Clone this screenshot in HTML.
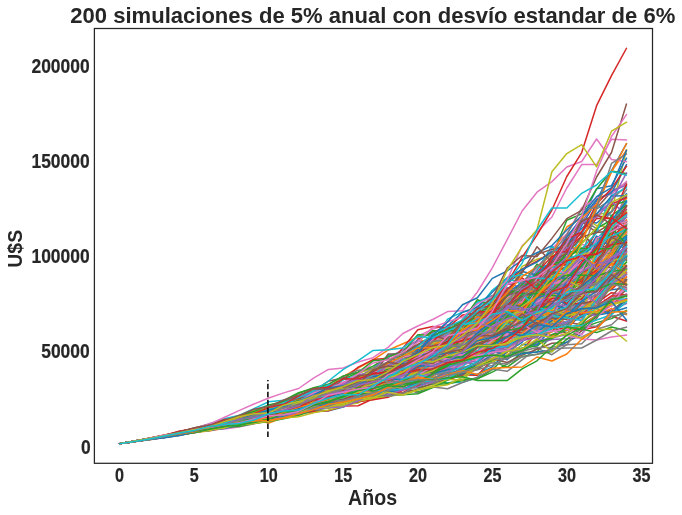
<!DOCTYPE html>
<html lang="es"><head><meta charset="utf-8"><title>200 simulaciones</title>
<style>html,body{margin:0;padding:0;background:#fff}svg{display:block;will-change:transform;opacity:.999}</style></head>
<body>
<svg width="682" height="515" viewBox="0 0 682 515">
<rect width="682" height="515" fill="#fff"/>
<g fill="none" stroke-width="1.5" stroke-linejoin="round" stroke-linecap="square">
<polyline points="119.8,443.7 134.7,441.1 149.6,438.4 164.5,436.2 179.4,434.4 194.3,431.4 209.2,430.0 224.1,428.0 239.0,423.8 253.9,420.7 268.8,416.6 283.7,413.2 298.6,412.8 313.5,410.9 328.4,410.8 343.3,407.1 358.2,398.3 373.1,395.0 388.0,391.1 402.9,388.5 417.8,383.4 432.7,380.3 447.6,369.2 462.5,359.0 477.4,346.3 492.3,336.2 507.2,332.8 522.1,315.9 537.0,319.9 551.9,318.3 566.8,309.8 581.7,302.7 596.6,295.1 611.5,289.7 626.4,288.0" stroke="#1f77b4"/>
<polyline points="119.8,443.7 134.7,441.4 149.6,438.8 164.5,436.7 179.4,433.6 194.3,431.0 209.2,426.3 224.1,424.9 239.0,421.1 253.9,417.7 268.8,411.9 283.7,406.8 298.6,402.0 313.5,405.4 328.4,403.5 343.3,396.2 358.2,393.1 373.1,384.6 388.0,376.5 402.9,368.7 417.8,363.6 432.7,360.7 447.6,355.4 462.5,351.1 477.4,346.0 492.3,348.3 507.2,339.9 522.1,334.4 537.0,322.5 551.9,313.2 566.8,310.6 581.7,308.2 596.6,301.6 611.5,304.2 626.4,281.4" stroke="#ff7f0e"/>
<polyline points="119.8,443.7 134.7,441.3 149.6,439.2 164.5,436.5 179.4,434.0 194.3,431.8 209.2,429.3 224.1,425.0 239.0,423.2 253.9,420.3 268.8,416.3 283.7,410.7 298.6,408.7 313.5,403.8 328.4,400.7 343.3,396.9 358.2,388.5 373.1,389.2 388.0,382.4 402.9,388.4 417.8,391.9 432.7,387.3 447.6,378.6 462.5,373.7 477.4,368.0 492.3,360.7 507.2,348.9 522.1,334.0 537.0,316.2 551.9,311.7 566.8,296.5 581.7,295.6 596.6,300.9 611.5,286.8 626.4,256.3" stroke="#2ca02c"/>
<polyline points="119.8,443.7 134.7,441.3 149.6,438.8 164.5,435.9 179.4,433.5 194.3,431.2 209.2,427.6 224.1,423.1 239.0,420.4 253.9,419.5 268.8,418.2 283.7,414.6 298.6,409.8 313.5,405.9 328.4,406.2 343.3,405.3 358.2,401.9 373.1,392.4 388.0,384.0 402.9,372.7 417.8,365.5 432.7,357.8 447.6,356.0 462.5,346.3 477.4,335.1 492.3,322.8 507.2,314.9 522.1,307.7 537.0,297.3 551.9,280.9 566.8,273.7 581.7,266.3 596.6,247.7 611.5,250.7 626.4,237.2" stroke="#d62728"/>
<polyline points="119.8,443.7 134.7,441.5 149.6,438.7 164.5,436.3 179.4,434.3 194.3,431.3 209.2,427.2 224.1,425.0 239.0,423.5 253.9,420.0 268.8,417.8 283.7,413.3 298.6,411.5 313.5,408.5 328.4,403.4 343.3,398.0 358.2,391.7 373.1,388.9 388.0,381.7 402.9,377.1 417.8,377.0 432.7,367.6 447.6,363.3 462.5,356.1 477.4,340.9 492.3,335.1 507.2,327.9 522.1,333.2 537.0,326.2 551.9,318.4 566.8,307.0 581.7,296.9 596.6,277.1 611.5,249.0 626.4,233.7" stroke="#9467bd"/>
<polyline points="119.8,443.7 134.7,441.3 149.6,438.6 164.5,436.1 179.4,432.7 194.3,429.1 209.2,427.3 224.1,425.1 239.0,422.5 253.9,417.6 268.8,416.8 283.7,414.5 298.6,410.7 313.5,403.5 328.4,395.3 343.3,393.5 358.2,386.3 373.1,382.5 388.0,377.8 402.9,365.0 417.8,360.1 432.7,360.6 447.6,351.4 462.5,333.9 477.4,322.2 492.3,311.9 507.2,297.9 522.1,285.4 537.0,274.9 551.9,248.2 566.8,248.7 581.7,240.4 596.6,208.0 611.5,191.4 626.4,182.9" stroke="#8c564b"/>
<polyline points="119.8,443.7 134.7,441.4 149.6,438.8 164.5,436.3 179.4,433.3 194.3,429.4 209.2,425.7 224.1,424.3 239.0,420.7 253.9,416.7 268.8,413.8 283.7,410.4 298.6,409.0 313.5,404.7 328.4,400.7 343.3,398.4 358.2,391.1 373.1,389.6 388.0,382.6 402.9,376.6 417.8,371.0 432.7,370.3 447.6,370.8 462.5,360.9 477.4,356.4 492.3,343.5 507.2,333.0 522.1,320.8 537.0,312.9 551.9,310.0 566.8,305.1 581.7,290.0 596.6,285.0 611.5,276.7 626.4,274.9" stroke="#e377c2"/>
<polyline points="119.8,443.7 134.7,441.3 149.6,439.1 164.5,437.5 179.4,435.4 194.3,432.3 209.2,428.1 224.1,425.9 239.0,422.5 253.9,420.4 268.8,417.1 283.7,418.2 298.6,414.3 313.5,411.8 328.4,405.2 343.3,402.9 358.2,398.3 373.1,392.1 388.0,389.3 402.9,387.6 417.8,381.8 432.7,376.0 447.6,368.6 462.5,353.6 477.4,336.7 492.3,318.5 507.2,307.5 522.1,291.3 537.0,282.2 551.9,266.9 566.8,264.7 581.7,252.1 596.6,240.4 611.5,232.0 626.4,196.8" stroke="#7f7f7f"/>
<polyline points="119.8,443.7 134.7,441.1 149.6,438.6 164.5,436.6 179.4,433.8 194.3,430.9 209.2,428.6 224.1,424.4 239.0,419.4 253.9,417.2 268.8,416.7 283.7,413.3 298.6,406.6 313.5,402.9 328.4,397.0 343.3,397.1 358.2,391.5 373.1,384.8 388.0,376.3 402.9,373.5 417.8,363.2 432.7,360.4 447.6,354.8 462.5,343.5 477.4,329.0 492.3,328.0 507.2,312.8 522.1,296.1 537.0,292.3 551.9,277.7 566.8,250.5 581.7,239.6 596.6,214.7 611.5,211.9 626.4,149.8" stroke="#bcbd22"/>
<polyline points="119.8,443.7 134.7,441.3 149.6,438.7 164.5,436.0 179.4,432.3 194.3,429.5 209.2,428.3 224.1,425.6 239.0,426.0 253.9,421.7 268.8,419.0 283.7,414.9 298.6,411.4 313.5,407.8 328.4,402.9 343.3,400.2 358.2,394.6 373.1,389.0 388.0,391.6 402.9,383.3 417.8,378.9 432.7,380.9 447.6,382.7 462.5,382.2 477.4,377.7 492.3,361.0 507.2,343.7 522.1,332.5 537.0,322.2 551.9,300.4 566.8,297.9 581.7,296.5 596.6,277.6 611.5,262.2 626.4,260.3" stroke="#17becf"/>
<polyline points="119.8,443.7 134.7,441.5 149.6,438.8 164.5,436.0 179.4,432.3 194.3,428.3 209.2,425.2 224.1,422.1 239.0,418.7 253.9,415.9 268.8,411.2 283.7,407.1 298.6,402.3 313.5,398.7 328.4,392.4 343.3,387.0 358.2,381.2 373.1,377.1 388.0,370.4 402.9,357.0 417.8,351.2 432.7,341.5 447.6,337.2 462.5,327.4 477.4,321.1 492.3,315.1 507.2,306.9 522.1,296.9 537.0,291.6 551.9,270.9 566.8,278.3 581.7,284.1 596.6,268.3 611.5,243.6 626.4,228.7" stroke="#1f77b4"/>
<polyline points="119.8,443.7 134.7,441.3 149.6,439.0 164.5,436.4 179.4,434.1 194.3,432.2 209.2,431.1 224.1,428.2 239.0,425.4 253.9,423.6 268.8,420.8 283.7,414.4 298.6,409.6 313.5,408.9 328.4,405.2 343.3,400.7 358.2,394.8 373.1,390.6 388.0,386.5 402.9,376.2 417.8,362.1 432.7,356.8 447.6,347.1 462.5,330.5 477.4,328.3 492.3,329.2 507.2,318.3 522.1,302.5 537.0,286.0 551.9,289.2 566.8,270.9 581.7,269.0 596.6,250.0 611.5,248.4 626.4,222.1" stroke="#ff7f0e"/>
<polyline points="119.8,443.7 134.7,441.1 149.6,438.7 164.5,436.5 179.4,433.3 194.3,430.1 209.2,427.4 224.1,422.9 239.0,419.8 253.9,416.1 268.8,413.5 283.7,409.2 298.6,407.9 313.5,407.4 328.4,405.5 343.3,404.4 358.2,401.9 373.1,398.2 388.0,389.9 402.9,387.5 417.8,387.8 432.7,383.9 447.6,384.0 462.5,380.4 477.4,378.7 492.3,372.1 507.2,364.1 522.1,352.6 537.0,351.9 551.9,335.4 566.8,325.9 581.7,314.7 596.6,312.5 611.5,311.6 626.4,298.4" stroke="#2ca02c"/>
<polyline points="119.8,443.7 134.7,441.2 149.6,439.0 164.5,436.3 179.4,432.5 194.3,430.3 209.2,428.1 224.1,422.7 239.0,419.1 253.9,419.5 268.8,415.4 283.7,412.6 298.6,408.3 313.5,408.4 328.4,402.8 343.3,398.7 358.2,392.8 373.1,390.5 388.0,388.5 402.9,381.7 417.8,382.9 432.7,378.1 447.6,372.7 462.5,364.4 477.4,357.8 492.3,361.2 507.2,356.9 522.1,350.0 537.0,333.0 551.9,328.0 566.8,321.8 581.7,308.6 596.6,295.3 611.5,276.1 626.4,249.1" stroke="#d62728"/>
<polyline points="119.8,443.7 134.7,441.4 149.6,439.3 164.5,436.9 179.4,435.1 194.3,432.4 209.2,429.1 224.1,426.3 239.0,423.5 253.9,418.6 268.8,413.8 283.7,411.1 298.6,406.3 313.5,398.6 328.4,393.4 343.3,388.8 358.2,388.4 373.1,383.1 388.0,374.8 402.9,377.5 417.8,365.2 432.7,355.0 447.6,351.1 462.5,343.2 477.4,335.9 492.3,335.3 507.2,333.9 522.1,323.7 537.0,321.8 551.9,307.8 566.8,298.3 581.7,306.6 596.6,287.8 611.5,280.8 626.4,272.2" stroke="#9467bd"/>
<polyline points="119.8,443.7 134.7,441.2 149.6,438.8 164.5,436.7 179.4,433.3 194.3,430.1 209.2,427.5 224.1,425.0 239.0,422.3 253.9,417.3 268.8,415.9 283.7,410.7 298.6,408.5 313.5,403.9 328.4,398.1 343.3,394.4 358.2,389.0 373.1,385.0 388.0,374.1 402.9,374.0 417.8,366.1 432.7,352.1 447.6,361.2 462.5,351.9 477.4,336.3 492.3,335.2 507.2,325.6 522.1,334.9 537.0,335.2 551.9,320.8 566.8,322.3 581.7,324.8 596.6,315.3 611.5,302.4 626.4,284.9" stroke="#8c564b"/>
<polyline points="119.8,443.7 134.7,441.4 149.6,439.2 164.5,436.9 179.4,434.0 194.3,431.5 209.2,427.7 224.1,423.8 239.0,422.6 253.9,417.2 268.8,412.3 283.7,411.6 298.6,406.2 313.5,402.0 328.4,397.3 343.3,392.8 358.2,387.4 373.1,385.5 388.0,379.8 402.9,371.9 417.8,371.6 432.7,372.0 447.6,364.7 462.5,349.9 477.4,342.6 492.3,352.9 507.2,344.2 522.1,349.9 537.0,339.9 551.9,331.5 566.8,321.1 581.7,318.9 596.6,290.9 611.5,306.4 626.4,294.2" stroke="#e377c2"/>
<polyline points="119.8,443.7 134.7,441.1 149.6,438.7 164.5,436.3 179.4,433.2 194.3,429.5 209.2,425.7 224.1,421.4 239.0,418.9 253.9,415.6 268.8,411.5 283.7,405.0 298.6,405.6 313.5,398.1 328.4,391.6 343.3,392.0 358.2,390.8 373.1,382.4 388.0,382.9 402.9,374.0 417.8,373.2 432.7,362.3 447.6,358.5 462.5,346.4 477.4,346.8 492.3,321.3 507.2,318.1 522.1,300.3 537.0,287.1 551.9,270.9 566.8,277.3 581.7,275.2 596.6,255.7 611.5,244.3 626.4,235.2" stroke="#7f7f7f"/>
<polyline points="119.8,443.7 134.7,441.4 149.6,439.0 164.5,437.2 179.4,434.5 194.3,431.1 209.2,427.1 224.1,423.5 239.0,420.3 253.9,416.2 268.8,411.9 283.7,406.5 298.6,400.6 313.5,392.8 328.4,391.7 343.3,384.7 358.2,381.0 373.1,381.3 388.0,368.7 402.9,360.0 417.8,360.4 432.7,361.8 447.6,356.1 462.5,353.6 477.4,355.0 492.3,348.0 507.2,338.9 522.1,330.1 537.0,316.1 551.9,309.5 566.8,294.8 581.7,289.0 596.6,274.3 611.5,281.0 626.4,255.1" stroke="#bcbd22"/>
<polyline points="119.8,443.7 134.7,441.3 149.6,438.9 164.5,436.9 179.4,434.3 194.3,431.8 209.2,427.7 224.1,424.8 239.0,422.6 253.9,419.6 268.8,414.3 283.7,409.3 298.6,403.4 313.5,400.1 328.4,395.8 343.3,386.3 358.2,383.3 373.1,371.4 388.0,364.9 402.9,354.8 417.8,349.2 432.7,342.5 447.6,331.5 462.5,320.3 477.4,301.7 492.3,295.5 507.2,301.2 522.1,309.4 537.0,298.5 551.9,292.5 566.8,287.6 581.7,286.0 596.6,282.7 611.5,262.5 626.4,236.2" stroke="#17becf"/>
<polyline points="119.8,443.7 134.7,441.5 149.6,438.8 164.5,435.9 179.4,432.7 194.3,429.8 209.2,425.7 224.1,422.9 239.0,421.2 253.9,414.5 268.8,409.9 283.7,401.8 298.6,396.8 313.5,396.0 328.4,394.4 343.3,387.7 358.2,378.3 373.1,370.3 388.0,369.6 402.9,364.1 417.8,354.4 432.7,346.3 447.6,335.0 462.5,332.2 477.4,325.4 492.3,317.3 507.2,301.9 522.1,285.7 537.0,278.0 551.9,265.5 566.8,251.6 581.7,225.7 596.6,200.8 611.5,170.6 626.4,143.7" stroke="#1f77b4"/>
<polyline points="119.8,443.7 134.7,441.4 149.6,438.9 164.5,436.2 179.4,432.4 194.3,429.7 209.2,426.0 224.1,424.1 239.0,420.4 253.9,419.0 268.8,414.7 283.7,409.8 298.6,406.8 313.5,401.2 328.4,396.7 343.3,390.5 358.2,390.5 373.1,384.8 388.0,372.5 402.9,366.1 417.8,358.8 432.7,351.0 447.6,351.9 462.5,344.5 477.4,335.7 492.3,329.1 507.2,326.2 522.1,320.0 537.0,311.2 551.9,298.2 566.8,282.2 581.7,265.5 596.6,260.4 611.5,239.1 626.4,224.9" stroke="#ff7f0e"/>
<polyline points="119.8,443.7 134.7,441.4 149.6,438.9 164.5,436.9 179.4,434.5 194.3,431.9 209.2,428.9 224.1,425.0 239.0,423.0 253.9,421.6 268.8,418.6 283.7,413.6 298.6,406.9 313.5,402.5 328.4,399.5 343.3,397.0 358.2,391.5 373.1,384.9 388.0,382.7 402.9,377.1 417.8,374.9 432.7,361.9 447.6,351.6 462.5,348.6 477.4,339.7 492.3,333.4 507.2,331.4 522.1,317.4 537.0,301.8 551.9,300.9 566.8,298.2 581.7,278.8 596.6,278.0 611.5,259.6 626.4,255.6" stroke="#2ca02c"/>
<polyline points="119.8,443.7 134.7,441.1 149.6,438.5 164.5,435.4 179.4,433.2 194.3,429.5 209.2,427.3 224.1,423.1 239.0,422.1 253.9,418.4 268.8,416.7 283.7,415.5 298.6,412.6 313.5,411.7 328.4,410.7 343.3,406.0 358.2,405.8 373.1,398.8 388.0,396.1 402.9,392.9 417.8,382.9 432.7,376.9 447.6,380.1 462.5,374.9 477.4,375.2 492.3,359.9 507.2,345.3 522.1,339.9 537.0,336.5 551.9,326.4 566.8,329.5 581.7,330.0 596.6,326.7 611.5,316.2 626.4,321.0" stroke="#d62728"/>
<polyline points="119.8,443.7 134.7,441.6 149.6,438.8 164.5,435.7 179.4,433.8 194.3,430.1 209.2,427.1 224.1,424.7 239.0,419.2 253.9,416.8 268.8,410.7 283.7,405.7 298.6,402.0 313.5,396.3 328.4,397.1 343.3,391.5 358.2,387.6 373.1,380.7 388.0,375.6 402.9,378.8 417.8,373.2 432.7,365.3 447.6,355.0 462.5,332.8 477.4,337.8 492.3,330.0 507.2,318.9 522.1,308.3 537.0,293.4 551.9,288.4 566.8,267.4 581.7,252.9 596.6,241.3 611.5,233.8 626.4,231.8" stroke="#9467bd"/>
<polyline points="119.8,443.7 134.7,441.4 149.6,439.1 164.5,436.4 179.4,433.7 194.3,429.6 209.2,426.8 224.1,424.2 239.0,422.8 253.9,420.5 268.8,419.2 283.7,414.8 298.6,411.3 313.5,406.3 328.4,402.6 343.3,400.7 358.2,396.0 373.1,388.3 388.0,379.2 402.9,376.1 417.8,369.5 432.7,365.7 447.6,358.0 462.5,347.5 477.4,341.7 492.3,334.1 507.2,336.0 522.1,329.2 537.0,326.4 551.9,327.3 566.8,333.5 581.7,321.2 596.6,312.8 611.5,303.3 626.4,289.6" stroke="#8c564b"/>
<polyline points="119.8,443.7 134.7,441.5 149.6,439.0 164.5,436.5 179.4,434.0 194.3,432.0 209.2,429.8 224.1,429.0 239.0,427.1 253.9,423.8 268.8,420.4 283.7,416.4 298.6,414.1 313.5,405.4 328.4,400.0 343.3,392.8 358.2,391.1 373.1,388.0 388.0,386.5 402.9,388.3 417.8,380.6 432.7,380.8 447.6,373.5 462.5,372.3 477.4,364.7 492.3,353.2 507.2,339.3 522.1,329.1 537.0,308.1 551.9,301.8 566.8,289.1 581.7,292.1 596.6,283.6 611.5,263.4 626.4,248.1" stroke="#e377c2"/>
<polyline points="119.8,443.7 134.7,441.2 149.6,438.6 164.5,437.0 179.4,434.2 194.3,431.6 209.2,429.2 224.1,425.9 239.0,422.5 253.9,419.8 268.8,418.9 283.7,414.5 298.6,408.5 313.5,404.3 328.4,403.1 343.3,395.1 358.2,386.9 373.1,376.3 388.0,369.1 402.9,366.7 417.8,354.2 432.7,357.4 447.6,351.5 462.5,340.1 477.4,329.1 492.3,328.0 507.2,331.5 522.1,324.5 537.0,311.4 551.9,311.8 566.8,309.4 581.7,301.0 596.6,294.5 611.5,284.1 626.4,283.7" stroke="#7f7f7f"/>
<polyline points="119.8,443.7 134.7,441.3 149.6,438.7 164.5,435.5 179.4,432.6 194.3,429.8 209.2,426.4 224.1,421.2 239.0,418.4 253.9,414.6 268.8,411.4 283.7,407.2 298.6,399.6 313.5,397.2 328.4,395.3 343.3,386.3 358.2,385.2 373.1,378.4 388.0,370.8 402.9,359.8 417.8,350.0 432.7,337.6 447.6,332.6 462.5,325.8 477.4,316.3 492.3,323.5 507.2,311.6 522.1,307.9 537.0,295.3 551.9,270.5 566.8,269.0 581.7,267.3 596.6,244.0 611.5,229.6 626.4,195.2" stroke="#bcbd22"/>
<polyline points="119.8,443.7 134.7,441.3 149.6,439.1 164.5,436.4 179.4,434.3 194.3,431.0 209.2,428.5 224.1,425.2 239.0,419.8 253.9,418.5 268.8,414.2 283.7,408.4 298.6,400.5 313.5,395.3 328.4,388.9 343.3,382.9 358.2,372.8 373.1,368.4 388.0,355.5 402.9,352.1 417.8,355.2 432.7,353.6 447.6,342.7 462.5,332.3 477.4,315.7 492.3,302.7 507.2,295.7 522.1,284.7 537.0,267.6 551.9,264.5 566.8,263.0 581.7,234.7 596.6,204.7 611.5,216.0 626.4,223.3" stroke="#17becf"/>
<polyline points="119.8,443.7 134.7,441.1 149.6,438.7 164.5,436.6 179.4,433.7 194.3,431.3 209.2,430.2 224.1,427.0 239.0,424.3 253.9,418.4 268.8,413.8 283.7,410.9 298.6,404.3 313.5,403.1 328.4,397.7 343.3,391.4 358.2,386.1 373.1,383.1 388.0,378.7 402.9,362.4 417.8,359.9 432.7,349.9 447.6,336.8 462.5,330.9 477.4,328.5 492.3,323.1 507.2,303.2 522.1,297.0 537.0,294.0 551.9,273.3 566.8,241.8 581.7,219.7 596.6,188.7 611.5,185.7 626.4,158.3" stroke="#1f77b4"/>
<polyline points="119.8,443.7 134.7,441.2 149.6,438.1 164.5,435.0 179.4,432.0 194.3,430.9 209.2,427.8 224.1,425.8 239.0,423.7 253.9,420.0 268.8,423.1 283.7,417.3 298.6,413.3 313.5,407.0 328.4,400.2 343.3,397.1 358.2,393.6 373.1,386.3 388.0,380.7 402.9,371.7 417.8,363.5 432.7,351.8 447.6,343.4 462.5,336.3 477.4,325.7 492.3,310.1 507.2,309.0 522.1,299.8 537.0,296.2 551.9,294.6 566.8,289.4 581.7,283.3 596.6,261.1 611.5,242.6 626.4,220.9" stroke="#ff7f0e"/>
<polyline points="119.8,443.7 134.7,441.5 149.6,439.3 164.5,436.6 179.4,435.2 194.3,432.4 209.2,428.2 224.1,424.1 239.0,419.8 253.9,415.7 268.8,412.6 283.7,408.0 298.6,402.8 313.5,399.3 328.4,390.9 343.3,382.9 358.2,377.4 373.1,373.8 388.0,364.8 402.9,360.3 417.8,350.6 432.7,339.1 447.6,332.0 462.5,330.2 477.4,322.2 492.3,309.5 507.2,294.0 522.1,284.3 537.0,285.3 551.9,256.2 566.8,220.2 581.7,213.9 596.6,188.9 611.5,170.9 626.4,173.7" stroke="#2ca02c"/>
<polyline points="119.8,443.7 134.7,441.3 149.6,438.9 164.5,435.9 179.4,433.7 194.3,430.6 209.2,426.0 224.1,422.5 239.0,420.0 253.9,416.8 268.8,412.1 283.7,407.3 298.6,401.8 313.5,394.9 328.4,394.4 343.3,389.1 358.2,385.6 373.1,380.0 388.0,370.3 402.9,360.5 417.8,361.5 432.7,356.0 447.6,351.5 462.5,339.3 477.4,339.8 492.3,341.8 507.2,325.6 522.1,334.0 537.0,320.5 551.9,322.0 566.8,309.6 581.7,315.0 596.6,303.5 611.5,303.6 626.4,294.2" stroke="#d62728"/>
<polyline points="119.8,443.7 134.7,441.3 149.6,438.6 164.5,435.6 179.4,432.9 194.3,430.3 209.2,426.1 224.1,423.2 239.0,419.8 253.9,415.2 268.8,415.4 283.7,409.1 298.6,406.5 313.5,403.2 328.4,401.3 343.3,399.5 358.2,393.7 373.1,390.2 388.0,379.0 402.9,370.4 417.8,363.4 432.7,358.2 447.6,350.2 462.5,341.9 477.4,329.4 492.3,326.4 507.2,318.3 522.1,314.2 537.0,300.9 551.9,287.5 566.8,280.4 581.7,257.4 596.6,238.6 611.5,226.3 626.4,194.6" stroke="#9467bd"/>
<polyline points="119.8,443.7 134.7,441.7 149.6,439.2 164.5,437.0 179.4,434.6 194.3,431.9 209.2,428.4 224.1,426.2 239.0,424.2 253.9,420.1 268.8,415.7 283.7,412.8 298.6,412.6 313.5,410.2 328.4,405.1 343.3,400.2 358.2,395.9 373.1,386.1 388.0,383.3 402.9,377.5 417.8,369.6 432.7,370.4 447.6,368.8 462.5,360.5 477.4,347.6 492.3,348.4 507.2,343.2 522.1,337.4 537.0,332.0 551.9,323.3 566.8,328.3 581.7,314.5 596.6,314.3 611.5,310.0 626.4,300.9" stroke="#8c564b"/>
<polyline points="119.8,443.7 134.7,441.5 149.6,439.4 164.5,436.6 179.4,435.2 194.3,431.5 209.2,426.8 224.1,424.3 239.0,418.5 253.9,413.3 268.8,413.7 283.7,411.9 298.6,406.6 313.5,403.5 328.4,395.0 343.3,395.0 358.2,394.6 373.1,389.6 388.0,380.2 402.9,369.9 417.8,353.3 432.7,363.4 447.6,361.0 462.5,361.4 477.4,361.1 492.3,358.7 507.2,346.9 522.1,333.8 537.0,334.8 551.9,336.2 566.8,329.6 581.7,303.0 596.6,304.6 611.5,301.5 626.4,293.8" stroke="#e377c2"/>
<polyline points="119.8,443.7 134.7,441.3 149.6,439.1 164.5,436.3 179.4,434.4 194.3,431.4 209.2,428.5 224.1,424.3 239.0,421.6 253.9,417.8 268.8,411.8 283.7,409.6 298.6,405.5 313.5,403.0 328.4,401.9 343.3,399.6 358.2,392.9 373.1,386.0 388.0,381.7 402.9,379.8 417.8,379.1 432.7,369.9 447.6,369.8 462.5,358.7 477.4,353.5 492.3,337.9 507.2,331.4 522.1,320.0 537.0,313.9 551.9,316.7 566.8,299.4 581.7,290.4 596.6,271.8 611.5,261.2 626.4,245.1" stroke="#7f7f7f"/>
<polyline points="119.8,443.7 134.7,441.3 149.6,439.4 164.5,436.4 179.4,433.4 194.3,429.8 209.2,427.9 224.1,424.2 239.0,422.1 253.9,418.0 268.8,411.5 283.7,408.6 298.6,402.1 313.5,404.3 328.4,400.7 343.3,396.6 358.2,390.0 373.1,388.7 388.0,381.6 402.9,378.3 417.8,373.0 432.7,367.0 447.6,359.6 462.5,356.7 477.4,348.1 492.3,343.2 507.2,332.3 522.1,323.2 537.0,308.9 551.9,297.9 566.8,281.0 581.7,278.8 596.6,275.1 611.5,245.4 626.4,224.6" stroke="#bcbd22"/>
<polyline points="119.8,443.7 134.7,441.6 149.6,438.6 164.5,435.4 179.4,432.2 194.3,429.4 209.2,425.4 224.1,421.1 239.0,418.9 253.9,413.6 268.8,408.1 283.7,403.6 298.6,399.7 313.5,394.0 328.4,392.0 343.3,387.2 358.2,385.9 373.1,381.7 388.0,375.6 402.9,365.2 417.8,354.7 432.7,352.9 447.6,349.0 462.5,332.5 477.4,327.3 492.3,316.6 507.2,318.3 522.1,307.0 537.0,279.5 551.9,265.8 566.8,260.8 581.7,268.6 596.6,248.8 611.5,245.0 626.4,247.7" stroke="#17becf"/>
<polyline points="119.8,443.7 134.7,441.1 149.6,438.9 164.5,436.3 179.4,433.1 194.3,430.4 209.2,429.3 224.1,425.7 239.0,422.2 253.9,419.4 268.8,415.6 283.7,414.5 298.6,409.0 313.5,406.3 328.4,400.7 343.3,391.3 358.2,384.5 373.1,388.3 388.0,381.8 402.9,376.1 417.8,363.0 432.7,360.3 447.6,360.6 462.5,351.1 477.4,350.9 492.3,353.3 507.2,340.4 522.1,326.9 537.0,313.0 551.9,314.8 566.8,313.8 581.7,308.7 596.6,306.1 611.5,286.5 626.4,274.5" stroke="#1f77b4"/>
<polyline points="119.8,443.7 134.7,441.4 149.6,438.8 164.5,436.9 179.4,433.7 194.3,431.0 209.2,428.6 224.1,424.1 239.0,420.7 253.9,417.3 268.8,413.5 283.7,410.8 298.6,407.7 313.5,402.9 328.4,400.5 343.3,391.3 358.2,389.0 373.1,377.8 388.0,372.8 402.9,366.6 417.8,363.3 432.7,359.2 447.6,360.1 462.5,349.7 477.4,337.4 492.3,328.2 507.2,328.1 522.1,313.2 537.0,308.4 551.9,287.5 566.8,268.3 581.7,253.9 596.6,242.3 611.5,224.0 626.4,198.5" stroke="#ff7f0e"/>
<polyline points="119.8,443.7 134.7,441.3 149.6,438.4 164.5,435.6 179.4,432.8 194.3,429.2 209.2,426.8 224.1,424.0 239.0,420.5 253.9,415.2 268.8,412.2 283.7,406.9 298.6,404.1 313.5,403.1 328.4,400.2 343.3,398.2 358.2,388.3 373.1,385.8 388.0,380.0 402.9,378.9 417.8,367.2 432.7,356.1 447.6,337.9 462.5,338.5 477.4,335.2 492.3,318.3 507.2,324.2 522.1,312.0 537.0,304.2 551.9,292.9 566.8,290.2 581.7,294.0 596.6,287.8 611.5,272.8 626.4,240.9" stroke="#2ca02c"/>
<polyline points="119.8,443.7 134.7,441.2 149.6,439.1 164.5,436.2 179.4,433.3 194.3,430.7 209.2,427.7 224.1,424.8 239.0,420.9 253.9,415.2 268.8,412.8 283.7,406.7 298.6,400.5 313.5,396.8 328.4,398.3 343.3,392.5 358.2,380.9 373.1,379.1 388.0,371.1 402.9,375.2 417.8,370.2 432.7,360.3 447.6,357.1 462.5,349.3 477.4,335.6 492.3,334.1 507.2,327.6 522.1,316.8 537.0,292.6 551.9,292.8 566.8,281.5 581.7,249.3 596.6,246.2 611.5,234.7 626.4,243.2" stroke="#d62728"/>
<polyline points="119.8,443.7 134.7,441.4 149.6,439.6 164.5,436.3 179.4,433.7 194.3,430.8 209.2,427.8 224.1,423.8 239.0,422.5 253.9,421.3 268.8,419.0 283.7,415.1 298.6,409.8 313.5,405.7 328.4,401.6 343.3,393.5 358.2,390.1 373.1,386.4 388.0,380.5 402.9,372.7 417.8,373.7 432.7,367.8 447.6,363.5 462.5,359.0 477.4,351.1 492.3,345.7 507.2,351.3 522.1,351.0 537.0,343.7 551.9,339.5 566.8,338.7 581.7,337.0 596.6,329.8 611.5,309.9 626.4,303.5" stroke="#9467bd"/>
<polyline points="119.8,443.7 134.7,441.4 149.6,438.7 164.5,435.7 179.4,432.0 194.3,427.8 209.2,425.5 224.1,422.8 239.0,419.2 253.9,417.3 268.8,413.1 283.7,412.1 298.6,407.0 313.5,402.4 328.4,393.7 343.3,382.8 358.2,377.9 373.1,369.2 388.0,364.6 402.9,356.9 417.8,351.5 432.7,344.3 447.6,328.9 462.5,325.1 477.4,319.2 492.3,314.6 507.2,318.8 522.1,316.5 537.0,305.9 551.9,295.9 566.8,281.7 581.7,279.2 596.6,257.5 611.5,252.6 626.4,234.7" stroke="#8c564b"/>
<polyline points="119.8,443.7 134.7,441.1 149.6,438.4 164.5,435.7 179.4,432.4 194.3,429.1 209.2,425.8 224.1,422.8 239.0,421.5 253.9,418.5 268.8,414.2 283.7,408.8 298.6,403.6 313.5,398.4 328.4,394.5 343.3,390.5 358.2,387.4 373.1,384.9 388.0,379.0 402.9,370.2 417.8,365.0 432.7,354.5 447.6,337.6 462.5,324.0 477.4,312.9 492.3,306.5 507.2,301.1 522.1,286.4 537.0,268.0 551.9,248.8 566.8,233.9 581.7,207.8 596.6,198.4 611.5,194.2 626.4,181.6" stroke="#e377c2"/>
<polyline points="119.8,443.7 134.7,441.4 149.6,438.7 164.5,436.2 179.4,432.7 194.3,429.4 209.2,425.0 224.1,421.1 239.0,417.1 253.9,414.3 268.8,410.6 283.7,408.1 298.6,406.3 313.5,397.8 328.4,394.1 343.3,395.8 358.2,389.4 373.1,385.8 388.0,373.5 402.9,357.2 417.8,348.3 432.7,340.9 447.6,333.0 462.5,324.1 477.4,313.2 492.3,307.9 507.2,300.9 522.1,280.1 537.0,288.2 551.9,274.5 566.8,262.7 581.7,254.0 596.6,259.1 611.5,242.4 626.4,225.3" stroke="#7f7f7f"/>
<polyline points="119.8,443.7 134.7,441.3 149.6,438.7 164.5,436.2 179.4,432.8 194.3,429.6 209.2,424.8 224.1,420.9 239.0,415.9 253.9,412.0 268.8,409.3 283.7,406.3 298.6,401.2 313.5,395.3 328.4,388.2 343.3,386.1 358.2,377.7 373.1,367.9 388.0,365.9 402.9,362.4 417.8,350.5 432.7,342.7 447.6,335.6 462.5,328.3 477.4,325.4 492.3,315.9 507.2,298.1 522.1,291.6 537.0,278.1 551.9,272.3 566.8,246.0 581.7,249.2 596.6,256.2 611.5,254.2 626.4,256.0" stroke="#bcbd22"/>
<polyline points="119.8,443.7 134.7,441.2 149.6,438.6 164.5,436.3 179.4,433.1 194.3,429.6 209.2,425.4 224.1,422.8 239.0,419.9 253.9,417.3 268.8,413.5 283.7,410.4 298.6,406.3 313.5,401.3 328.4,393.0 343.3,387.5 358.2,382.2 373.1,378.7 388.0,372.6 402.9,365.8 417.8,357.8 432.7,344.5 447.6,334.4 462.5,320.0 477.4,306.5 492.3,298.8 507.2,287.4 522.1,290.5 537.0,270.5 551.9,245.8 566.8,262.1 581.7,255.8 596.6,244.7 611.5,225.8 626.4,202.5" stroke="#17becf"/>
<polyline points="119.8,443.7 134.7,441.4 149.6,439.2 164.5,436.1 179.4,433.7 194.3,429.7 209.2,426.0 224.1,423.8 239.0,420.6 253.9,417.4 268.8,415.1 283.7,410.3 298.6,407.2 313.5,399.1 328.4,392.0 343.3,389.7 358.2,384.6 373.1,379.9 388.0,380.4 402.9,371.1 417.8,360.6 432.7,349.2 447.6,344.5 462.5,330.4 477.4,323.6 492.3,308.1 507.2,283.6 522.1,271.5 537.0,275.1 551.9,267.1 566.8,248.7 581.7,221.7 596.6,223.0 611.5,211.7 626.4,193.9" stroke="#1f77b4"/>
<polyline points="119.8,443.7 134.7,441.4 149.6,438.8 164.5,436.5 179.4,433.0 194.3,430.0 209.2,426.5 224.1,422.7 239.0,417.3 253.9,412.0 268.8,407.5 283.7,405.2 298.6,402.0 313.5,397.3 328.4,387.7 343.3,376.3 358.2,368.1 373.1,359.9 388.0,350.2 402.9,343.7 417.8,337.3 432.7,347.8 447.6,341.2 462.5,336.1 477.4,330.4 492.3,329.0 507.2,321.0 522.1,314.9 537.0,317.2 551.9,311.2 566.8,311.7 581.7,317.7 596.6,305.3 611.5,301.5 626.4,295.9" stroke="#ff7f0e"/>
<polyline points="119.8,443.7 134.7,441.3 149.6,439.0 164.5,436.4 179.4,434.4 194.3,432.6 209.2,430.2 224.1,428.1 239.0,424.4 253.9,421.0 268.8,418.4 283.7,413.9 298.6,410.6 313.5,403.8 328.4,397.1 343.3,387.8 358.2,381.1 373.1,378.5 388.0,373.1 402.9,364.0 417.8,360.4 432.7,359.5 447.6,348.7 462.5,342.4 477.4,334.7 492.3,332.8 507.2,316.8 522.1,299.6 537.0,278.0 551.9,272.0 566.8,275.3 581.7,261.2 596.6,229.0 611.5,205.9 626.4,201.0" stroke="#2ca02c"/>
<polyline points="119.8,443.7 134.7,441.4 149.6,439.1 164.5,437.3 179.4,434.8 194.3,431.4 209.2,427.7 224.1,425.9 239.0,422.5 253.9,417.9 268.8,412.5 283.7,411.0 298.6,408.2 313.5,404.4 328.4,396.2 343.3,390.0 358.2,385.4 373.1,381.4 388.0,377.3 402.9,372.4 417.8,366.2 432.7,365.4 447.6,361.5 462.5,347.9 477.4,336.3 492.3,328.0 507.2,322.1 522.1,299.3 537.0,298.4 551.9,300.3 566.8,290.6 581.7,297.4 596.6,280.7 611.5,289.2 626.4,276.9" stroke="#d62728"/>
<polyline points="119.8,443.7 134.7,441.3 149.6,439.1 164.5,436.3 179.4,434.0 194.3,431.1 209.2,428.7 224.1,426.1 239.0,421.8 253.9,418.7 268.8,412.7 283.7,404.7 298.6,402.6 313.5,394.5 328.4,385.9 343.3,387.2 358.2,381.2 373.1,377.4 388.0,371.4 402.9,367.0 417.8,357.9 432.7,346.4 447.6,356.3 462.5,345.6 477.4,334.7 492.3,329.3 507.2,320.8 522.1,312.7 537.0,312.1 551.9,298.9 566.8,304.4 581.7,299.6 596.6,279.2 611.5,257.9 626.4,240.1" stroke="#9467bd"/>
<polyline points="119.8,443.7 134.7,441.5 149.6,438.8 164.5,435.9 179.4,433.0 194.3,430.4 209.2,426.8 224.1,423.8 239.0,419.5 253.9,415.1 268.8,413.0 283.7,409.8 298.6,403.9 313.5,399.7 328.4,395.7 343.3,385.8 358.2,382.3 373.1,380.2 388.0,371.8 402.9,362.4 417.8,355.6 432.7,349.2 447.6,347.8 462.5,334.3 477.4,323.5 492.3,343.5 507.2,340.8 522.1,332.7 537.0,327.7 551.9,313.8 566.8,303.0 581.7,287.2 596.6,281.9 611.5,274.0 626.4,280.2" stroke="#8c564b"/>
<polyline points="119.8,443.7 134.7,441.1 149.6,438.4 164.5,435.4 179.4,432.7 194.3,429.6 209.2,426.8 224.1,421.9 239.0,415.9 253.9,411.8 268.8,411.3 283.7,405.9 298.6,401.5 313.5,396.4 328.4,388.0 343.3,381.9 358.2,380.5 373.1,375.9 388.0,373.5 402.9,371.8 417.8,368.3 432.7,358.5 447.6,346.7 462.5,336.4 477.4,328.0 492.3,313.4 507.2,284.5 522.1,280.6 537.0,275.6 551.9,280.6 566.8,259.0 581.7,244.3 596.6,249.6 611.5,246.2 626.4,231.8" stroke="#e377c2"/>
<polyline points="119.8,443.7 134.7,441.3 149.6,438.6 164.5,436.7 179.4,433.0 194.3,430.8 209.2,427.5 224.1,424.7 239.0,420.8 253.9,417.4 268.8,413.1 283.7,409.1 298.6,405.0 313.5,400.8 328.4,395.9 343.3,388.9 358.2,384.7 373.1,374.5 388.0,373.1 402.9,365.4 417.8,356.0 432.7,347.1 447.6,344.4 462.5,339.0 477.4,328.2 492.3,318.6 507.2,316.7 522.1,318.1 537.0,314.9 551.9,296.8 566.8,313.7 581.7,292.4 596.6,291.2 611.5,279.7 626.4,256.0" stroke="#7f7f7f"/>
<polyline points="119.8,443.7 134.7,441.2 149.6,438.4 164.5,436.0 179.4,433.6 194.3,429.6 209.2,427.3 224.1,423.7 239.0,419.2 253.9,412.7 268.8,409.9 283.7,407.6 298.6,402.8 313.5,395.7 328.4,391.7 343.3,391.8 358.2,387.3 373.1,379.7 388.0,368.3 402.9,360.6 417.8,355.8 432.7,342.7 447.6,343.4 462.5,346.7 477.4,346.1 492.3,335.4 507.2,325.0 522.1,328.0 537.0,327.1 551.9,305.4 566.8,287.1 581.7,291.2 596.6,277.9 611.5,277.6 626.4,261.7" stroke="#bcbd22"/>
<polyline points="119.8,443.7 134.7,441.3 149.6,438.4 164.5,436.8 179.4,433.9 194.3,430.7 209.2,428.1 224.1,424.4 239.0,420.0 253.9,416.9 268.8,413.5 283.7,409.2 298.6,408.5 313.5,407.2 328.4,401.4 343.3,397.8 358.2,386.1 373.1,380.7 388.0,376.6 402.9,367.6 417.8,359.8 432.7,351.1 447.6,354.7 462.5,341.8 477.4,338.7 492.3,321.4 507.2,334.5 522.1,327.5 537.0,307.2 551.9,304.4 566.8,301.3 581.7,287.1 596.6,278.9 611.5,275.3 626.4,254.5" stroke="#17becf"/>
<polyline points="119.8,443.7 134.7,441.2 149.6,438.6 164.5,436.7 179.4,434.5 194.3,431.3 209.2,426.4 224.1,421.6 239.0,417.0 253.9,412.2 268.8,408.5 283.7,403.7 298.6,398.1 313.5,393.4 328.4,397.0 343.3,386.5 358.2,379.2 373.1,372.6 388.0,372.8 402.9,360.3 417.8,356.7 432.7,355.6 447.6,356.1 462.5,343.9 477.4,335.1 492.3,335.0 507.2,328.8 522.1,319.3 537.0,306.5 551.9,288.8 566.8,279.5 581.7,264.3 596.6,253.3 611.5,230.0 626.4,237.9" stroke="#1f77b4"/>
<polyline points="119.8,443.7 134.7,441.2 149.6,438.9 164.5,436.1 179.4,433.9 194.3,430.1 209.2,427.4 224.1,423.0 239.0,421.9 253.9,420.7 268.8,418.2 283.7,412.2 298.6,410.0 313.5,405.6 328.4,401.2 343.3,394.6 358.2,392.4 373.1,385.2 388.0,382.5 402.9,374.4 417.8,376.1 432.7,379.1 447.6,374.3 462.5,369.0 477.4,367.3 492.3,358.8 507.2,352.5 522.1,334.8 537.0,323.8 551.9,336.1 566.8,329.1 581.7,326.4 596.6,315.5 611.5,308.4 626.4,314.8" stroke="#ff7f0e"/>
<polyline points="119.8,443.7 134.7,441.6 149.6,438.9 164.5,436.2 179.4,433.2 194.3,430.5 209.2,428.0 224.1,424.5 239.0,419.0 253.9,414.6 268.8,411.6 283.7,407.7 298.6,403.2 313.5,400.5 328.4,398.5 343.3,392.9 358.2,385.8 373.1,388.5 388.0,388.8 402.9,382.7 417.8,384.0 432.7,380.0 447.6,383.5 462.5,379.3 477.4,378.8 492.3,369.7 507.2,354.9 522.1,347.9 537.0,346.1 551.9,334.5 566.8,330.6 581.7,324.2 596.6,307.7 611.5,298.9 626.4,294.8" stroke="#2ca02c"/>
<polyline points="119.8,443.7 134.7,441.2 149.6,439.0 164.5,436.2 179.4,433.4 194.3,430.5 209.2,426.5 224.1,422.4 239.0,417.6 253.9,415.8 268.8,412.8 283.7,408.9 298.6,404.9 313.5,398.0 328.4,391.2 343.3,379.1 358.2,367.2 373.1,359.6 388.0,358.3 402.9,361.6 417.8,362.1 432.7,347.5 447.6,350.7 462.5,337.4 477.4,340.3 492.3,333.1 507.2,317.6 522.1,305.0 537.0,297.3 551.9,285.5 566.8,283.9 581.7,274.3 596.6,261.2 611.5,238.6 626.4,221.8" stroke="#d62728"/>
<polyline points="119.8,443.7 134.7,441.1 149.6,438.4 164.5,436.3 179.4,433.7 194.3,431.7 209.2,427.8 224.1,425.9 239.0,421.8 253.9,416.5 268.8,415.3 283.7,415.0 298.6,412.0 313.5,410.0 328.4,405.0 343.3,402.4 358.2,393.9 373.1,394.7 388.0,390.3 402.9,381.8 417.8,368.0 432.7,359.1 447.6,358.7 462.5,356.8 477.4,344.1 492.3,345.1 507.2,333.5 522.1,321.4 537.0,308.5 551.9,294.1 566.8,282.4 581.7,272.5 596.6,244.4 611.5,224.9 626.4,228.1" stroke="#9467bd"/>
<polyline points="119.8,443.7 134.7,441.1 149.6,438.4 164.5,436.5 179.4,434.5 194.3,430.3 209.2,428.2 224.1,423.7 239.0,419.3 253.9,418.3 268.8,417.7 283.7,409.9 298.6,403.7 313.5,401.5 328.4,394.3 343.3,387.5 358.2,380.2 373.1,375.0 388.0,365.4 402.9,357.9 417.8,350.3 432.7,348.8 447.6,342.7 462.5,336.1 477.4,328.1 492.3,332.5 507.2,317.6 522.1,299.6 537.0,309.1 551.9,295.3 566.8,291.5 581.7,296.0 596.6,274.5 611.5,261.1 626.4,259.8" stroke="#8c564b"/>
<polyline points="119.8,443.7 134.7,441.3 149.6,438.4 164.5,435.4 179.4,432.0 194.3,429.0 209.2,425.1 224.1,423.2 239.0,421.1 253.9,418.7 268.8,417.0 283.7,414.6 298.6,409.0 313.5,404.3 328.4,400.4 343.3,391.3 358.2,384.5 373.1,372.5 388.0,361.5 402.9,352.2 417.8,336.1 432.7,329.1 447.6,324.7 462.5,324.2 477.4,306.7 492.3,310.2 507.2,297.7 522.1,288.1 537.0,277.0 551.9,270.2 566.8,259.9 581.7,258.1 596.6,247.9 611.5,227.1 626.4,213.1" stroke="#e377c2"/>
<polyline points="119.8,443.7 134.7,441.3 149.6,438.3 164.5,435.9 179.4,431.9 194.3,429.9 209.2,427.5 224.1,425.0 239.0,423.5 253.9,419.4 268.8,416.4 283.7,412.8 298.6,409.6 313.5,404.7 328.4,396.6 343.3,392.9 358.2,389.6 373.1,381.9 388.0,389.7 402.9,386.3 417.8,393.3 432.7,387.0 447.6,388.8 462.5,382.5 477.4,377.1 492.3,369.1 507.2,371.3 522.1,359.8 537.0,348.1 551.9,354.7 566.8,344.7 581.7,343.7 596.6,329.2 611.5,324.7 626.4,311.2" stroke="#7f7f7f"/>
<polyline points="119.8,443.7 134.7,441.3 149.6,438.4 164.5,435.6 179.4,432.9 194.3,428.6 209.2,426.8 224.1,424.0 239.0,420.3 253.9,419.0 268.8,414.1 283.7,410.2 298.6,402.0 313.5,403.2 328.4,399.5 343.3,394.2 358.2,388.7 373.1,379.0 388.0,370.0 402.9,356.0 417.8,347.9 432.7,339.4 447.6,336.3 462.5,325.6 477.4,318.0 492.3,315.7 507.2,296.1 522.1,266.4 537.0,259.3 551.9,255.6 566.8,253.8 581.7,216.6 596.6,225.6 611.5,227.0 626.4,220.9" stroke="#bcbd22"/>
<polyline points="119.8,443.7 134.7,441.3 149.6,439.0 164.5,436.3 179.4,433.5 194.3,430.6 209.2,427.5 224.1,423.9 239.0,422.3 253.9,418.2 268.8,414.0 283.7,409.1 298.6,406.7 313.5,402.2 328.4,398.2 343.3,391.8 358.2,387.2 373.1,379.0 388.0,376.0 402.9,378.9 417.8,377.1 432.7,365.6 447.6,364.0 462.5,350.4 477.4,334.0 492.3,326.1 507.2,315.2 522.1,312.4 537.0,294.4 551.9,293.3 566.8,271.5 581.7,256.0 596.6,257.7 611.5,243.3 626.4,229.5" stroke="#17becf"/>
<polyline points="119.8,443.7 134.7,441.4 149.6,438.9 164.5,437.0 179.4,433.9 194.3,431.5 209.2,429.4 224.1,428.4 239.0,425.3 253.9,421.4 268.8,420.7 283.7,417.7 298.6,414.5 313.5,409.9 328.4,405.1 343.3,402.3 358.2,396.7 373.1,397.0 388.0,388.8 402.9,383.7 417.8,370.6 432.7,362.7 447.6,361.1 462.5,361.1 477.4,343.3 492.3,341.6 507.2,337.0 522.1,329.2 537.0,314.9 551.9,296.8 566.8,304.5 581.7,298.3 596.6,276.4 611.5,280.7 626.4,279.4" stroke="#1f77b4"/>
<polyline points="119.8,443.7 134.7,441.4 149.6,439.3 164.5,435.8 179.4,432.3 194.3,428.9 209.2,425.0 224.1,421.3 239.0,418.0 253.9,412.7 268.8,407.8 283.7,404.3 298.6,401.5 313.5,399.0 328.4,398.9 343.3,395.2 358.2,387.9 373.1,381.2 388.0,371.8 402.9,362.8 417.8,358.2 432.7,345.5 447.6,337.2 462.5,326.0 477.4,321.7 492.3,307.0 507.2,302.2 522.1,305.1 537.0,282.5 551.9,266.6 566.8,257.4 581.7,274.1 596.6,246.4 611.5,240.9 626.4,242.1" stroke="#ff7f0e"/>
<polyline points="119.8,443.7 134.7,441.2 149.6,438.7 164.5,436.6 179.4,434.6 194.3,432.5 209.2,430.1 224.1,427.1 239.0,426.6 253.9,423.6 268.8,421.4 283.7,418.8 298.6,415.5 313.5,409.9 328.4,408.0 343.3,403.3 358.2,396.9 373.1,391.9 388.0,384.3 402.9,372.1 417.8,365.6 432.7,356.3 447.6,346.2 462.5,343.9 477.4,343.1 492.3,322.1 507.2,311.5 522.1,307.1 537.0,305.1 551.9,294.9 566.8,281.6 581.7,274.9 596.6,280.6 611.5,278.9 626.4,262.3" stroke="#2ca02c"/>
<polyline points="119.8,443.7 134.7,441.4 149.6,438.9 164.5,436.0 179.4,433.2 194.3,431.1 209.2,426.7 224.1,424.4 239.0,421.4 253.9,419.1 268.8,415.6 283.7,411.3 298.6,409.3 313.5,400.4 328.4,390.3 343.3,388.0 358.2,387.6 373.1,377.9 388.0,373.5 402.9,369.7 417.8,366.3 432.7,358.2 447.6,347.8 462.5,330.7 477.4,327.5 492.3,310.4 507.2,295.0 522.1,284.6 537.0,282.0 551.9,264.1 566.8,265.1 581.7,255.6 596.6,231.5 611.5,204.2 626.4,197.5" stroke="#d62728"/>
<polyline points="119.8,443.7 134.7,441.2 149.6,438.5 164.5,435.2 179.4,433.4 194.3,430.4 209.2,428.6 224.1,425.6 239.0,420.4 253.9,419.0 268.8,414.0 283.7,410.7 298.6,407.3 313.5,400.1 328.4,397.4 343.3,388.9 358.2,382.2 373.1,375.4 388.0,372.3 402.9,362.2 417.8,359.8 432.7,357.7 447.6,345.1 462.5,333.6 477.4,319.3 492.3,300.5 507.2,283.8 522.1,287.4 537.0,273.0 551.9,262.9 566.8,235.2 581.7,223.8 596.6,214.0 611.5,201.4 626.4,215.4" stroke="#9467bd"/>
<polyline points="119.8,443.7 134.7,441.6 149.6,439.7 164.5,437.5 179.4,434.3 194.3,431.3 209.2,428.6 224.1,425.6 239.0,422.0 253.9,420.3 268.8,413.2 283.7,407.0 298.6,405.7 313.5,402.1 328.4,400.8 343.3,393.1 358.2,389.1 373.1,379.2 388.0,375.4 402.9,366.3 417.8,360.1 432.7,355.5 447.6,350.4 462.5,346.8 477.4,341.3 492.3,323.7 507.2,313.3 522.1,293.9 537.0,284.8 551.9,274.9 566.8,266.0 581.7,267.4 596.6,254.3 611.5,234.6 626.4,209.6" stroke="#8c564b"/>
<polyline points="119.8,443.7 134.7,441.3 149.6,438.5 164.5,435.4 179.4,431.9 194.3,428.1 209.2,423.6 224.1,420.2 239.0,415.2 253.9,414.6 268.8,412.4 283.7,409.4 298.6,404.2 313.5,400.8 328.4,394.1 343.3,388.0 358.2,389.1 373.1,382.9 388.0,377.3 402.9,373.4 417.8,377.0 432.7,374.0 447.6,372.6 462.5,363.9 477.4,351.8 492.3,347.4 507.2,340.1 522.1,336.7 537.0,334.7 551.9,331.5 566.8,316.6 581.7,309.3 596.6,286.3 611.5,271.6 626.4,270.0" stroke="#e377c2"/>
<polyline points="119.8,443.7 134.7,441.3 149.6,438.5 164.5,435.5 179.4,432.6 194.3,429.4 209.2,426.2 224.1,423.3 239.0,420.3 253.9,416.4 268.8,411.3 283.7,407.4 298.6,400.8 313.5,395.5 328.4,391.1 343.3,388.6 358.2,389.7 373.1,383.2 388.0,381.1 402.9,371.6 417.8,364.8 432.7,359.5 447.6,352.8 462.5,336.5 477.4,320.4 492.3,315.5 507.2,301.5 522.1,292.8 537.0,281.4 551.9,263.2 566.8,260.2 581.7,219.6 596.6,228.5 611.5,212.0 626.4,189.8" stroke="#7f7f7f"/>
<polyline points="119.8,443.7 134.7,441.3 149.6,439.2 164.5,435.9 179.4,434.0 194.3,431.8 209.2,429.6 224.1,427.3 239.0,423.4 253.9,418.5 268.8,412.6 283.7,409.6 298.6,406.7 313.5,401.3 328.4,399.0 343.3,393.2 358.2,393.9 373.1,392.2 388.0,390.7 402.9,382.4 417.8,374.3 432.7,365.7 447.6,357.7 462.5,355.3 477.4,350.8 492.3,337.2 507.2,323.4 522.1,318.0 537.0,307.6 551.9,292.8 566.8,268.3 581.7,274.0 596.6,249.3 611.5,253.3 626.4,231.9" stroke="#bcbd22"/>
<polyline points="119.8,443.7 134.7,441.5 149.6,438.6 164.5,435.5 179.4,433.0 194.3,430.2 209.2,425.5 224.1,423.3 239.0,418.0 253.9,410.1 268.8,404.9 283.7,403.5 298.6,396.7 313.5,395.0 328.4,394.9 343.3,390.5 358.2,382.5 373.1,376.7 388.0,374.2 402.9,367.5 417.8,353.6 432.7,341.3 447.6,319.2 462.5,311.9 477.4,308.9 492.3,290.3 507.2,278.2 522.1,284.3 537.0,287.3 551.9,268.7 566.8,258.2 581.7,274.7 596.6,270.0 611.5,253.2 626.4,236.0" stroke="#17becf"/>
<polyline points="119.8,443.7 134.7,441.4 149.6,438.9 164.5,436.8 179.4,434.9 194.3,432.3 209.2,428.3 224.1,426.6 239.0,423.8 253.9,421.4 268.8,417.9 283.7,413.3 298.6,408.7 313.5,408.2 328.4,406.5 343.3,401.4 358.2,397.7 373.1,395.1 388.0,392.9 402.9,384.8 417.8,378.9 432.7,378.8 447.6,374.0 462.5,369.2 477.4,364.4 492.3,354.6 507.2,359.8 522.1,344.4 537.0,345.0 551.9,328.2 566.8,324.0 581.7,316.9 596.6,308.6 611.5,313.9 626.4,298.8" stroke="#1f77b4"/>
<polyline points="119.8,443.7 134.7,441.4 149.6,439.5 164.5,437.2 179.4,434.5 194.3,431.3 209.2,427.4 224.1,424.9 239.0,422.2 253.9,417.0 268.8,410.5 283.7,408.2 298.6,404.9 313.5,404.0 328.4,399.8 343.3,394.7 358.2,394.9 373.1,389.3 388.0,381.1 402.9,375.5 417.8,366.5 432.7,361.6 447.6,350.8 462.5,349.6 477.4,344.0 492.3,334.0 507.2,330.4 522.1,321.4 537.0,311.0 551.9,294.5 566.8,290.6 581.7,281.2 596.6,265.3 611.5,233.9 626.4,213.9" stroke="#ff7f0e"/>
<polyline points="119.8,443.7 134.7,441.4 149.6,439.0 164.5,436.2 179.4,433.8 194.3,429.7 209.2,427.2 224.1,423.8 239.0,419.7 253.9,416.2 268.8,412.5 283.7,406.0 298.6,399.8 313.5,401.1 328.4,395.0 343.3,387.0 358.2,383.1 373.1,374.8 388.0,370.5 402.9,370.2 417.8,367.3 432.7,366.0 447.6,358.1 462.5,346.8 477.4,332.1 492.3,327.1 507.2,314.6 522.1,305.5 537.0,291.4 551.9,281.7 566.8,286.3 581.7,278.0 596.6,269.9 611.5,258.3 626.4,233.1" stroke="#2ca02c"/>
<polyline points="119.8,443.7 134.7,441.4 149.6,438.9 164.5,436.1 179.4,433.6 194.3,431.1 209.2,428.7 224.1,425.9 239.0,423.2 253.9,418.6 268.8,414.5 283.7,411.2 298.6,403.5 313.5,396.5 328.4,396.4 343.3,386.5 358.2,386.6 373.1,376.5 388.0,368.9 402.9,363.2 417.8,339.1 432.7,332.3 447.6,326.8 462.5,320.9 477.4,314.1 492.3,313.7 507.2,311.9 522.1,289.9 537.0,272.2 551.9,256.6 566.8,249.5 581.7,236.0 596.6,218.5 611.5,218.4 626.4,213.7" stroke="#d62728"/>
<polyline points="119.8,443.7 134.7,441.1 149.6,438.7 164.5,435.4 179.4,432.9 194.3,429.5 209.2,426.4 224.1,422.7 239.0,420.1 253.9,417.7 268.8,414.5 283.7,411.0 298.6,408.9 313.5,407.2 328.4,404.1 343.3,399.7 358.2,400.7 373.1,391.1 388.0,381.5 402.9,372.3 417.8,356.1 432.7,347.0 447.6,345.5 462.5,330.1 477.4,324.9 492.3,315.3 507.2,303.3 522.1,295.7 537.0,271.9 551.9,264.7 566.8,252.4 581.7,222.4 596.6,200.2 611.5,191.5 626.4,185.0" stroke="#9467bd"/>
<polyline points="119.8,443.7 134.7,441.2 149.6,438.9 164.5,435.9 179.4,433.8 194.3,431.5 209.2,427.6 224.1,424.1 239.0,421.7 253.9,419.2 268.8,414.8 283.7,412.4 298.6,406.9 313.5,401.9 328.4,397.2 343.3,391.4 358.2,384.7 373.1,378.5 388.0,373.2 402.9,367.1 417.8,358.2 432.7,356.7 447.6,340.2 462.5,332.5 477.4,324.9 492.3,314.3 507.2,295.7 522.1,272.6 537.0,246.7 551.9,262.8 566.8,257.0 581.7,248.1 596.6,242.4 611.5,231.9 626.4,217.2" stroke="#8c564b"/>
<polyline points="119.8,443.7 134.7,441.4 149.6,438.7 164.5,435.7 179.4,432.0 194.3,428.5 209.2,425.0 224.1,423.7 239.0,419.3 253.9,411.9 268.8,409.9 283.7,406.9 298.6,401.7 313.5,394.5 328.4,392.6 343.3,390.7 358.2,390.5 373.1,381.2 388.0,377.6 402.9,368.9 417.8,364.3 432.7,357.6 447.6,353.9 462.5,352.3 477.4,341.0 492.3,335.4 507.2,318.2 522.1,310.4 537.0,301.8 551.9,298.8 566.8,280.3 581.7,255.0 596.6,250.3 611.5,244.1 626.4,233.3" stroke="#e377c2"/>
<polyline points="119.8,443.7 134.7,441.5 149.6,438.5 164.5,436.8 179.4,433.7 194.3,430.8 209.2,428.1 224.1,424.4 239.0,420.8 253.9,417.0 268.8,416.2 283.7,413.8 298.6,407.5 313.5,400.3 328.4,395.9 343.3,396.6 358.2,392.9 373.1,391.0 388.0,387.1 402.9,386.3 417.8,382.3 432.7,378.9 447.6,370.3 462.5,362.4 477.4,364.7 492.3,356.4 507.2,349.3 522.1,335.9 537.0,327.6 551.9,326.1 566.8,323.8 581.7,310.3 596.6,307.7 611.5,281.3 626.4,280.7" stroke="#7f7f7f"/>
<polyline points="119.8,443.7 134.7,441.4 149.6,438.5 164.5,435.6 179.4,432.6 194.3,428.7 209.2,427.0 224.1,423.4 239.0,425.1 253.9,423.4 268.8,420.9 283.7,418.0 298.6,416.7 313.5,412.8 328.4,410.1 343.3,406.3 358.2,401.4 373.1,399.4 388.0,396.2 402.9,389.4 417.8,383.9 432.7,376.7 447.6,365.7 462.5,357.3 477.4,351.7 492.3,347.8 507.2,341.9 522.1,323.0 537.0,321.7 551.9,322.4 566.8,312.3 581.7,309.7 596.6,279.6 611.5,262.8 626.4,248.8" stroke="#bcbd22"/>
<polyline points="119.8,443.7 134.7,441.1 149.6,438.4 164.5,436.3 179.4,433.7 194.3,431.9 209.2,430.3 224.1,427.8 239.0,424.3 253.9,422.1 268.8,419.4 283.7,414.8 298.6,409.1 313.5,407.7 328.4,401.5 343.3,398.2 358.2,391.2 373.1,382.6 388.0,371.7 402.9,364.2 417.8,359.5 432.7,357.5 447.6,352.8 462.5,343.9 477.4,340.1 492.3,334.8 507.2,322.2 522.1,316.9 537.0,304.4 551.9,289.3 566.8,296.2 581.7,265.9 596.6,243.6 611.5,230.6 626.4,216.7" stroke="#17becf"/>
<polyline points="119.8,443.7 134.7,441.3 149.6,438.6 164.5,436.0 179.4,431.9 194.3,428.7 209.2,426.5 224.1,421.7 239.0,418.9 253.9,413.5 268.8,411.5 283.7,408.8 298.6,407.1 313.5,402.9 328.4,401.5 343.3,398.9 358.2,397.1 373.1,388.9 388.0,385.2 402.9,383.8 417.8,386.3 432.7,380.9 447.6,375.1 462.5,373.8 477.4,374.3 492.3,366.8 507.2,351.4 522.1,342.3 537.0,320.9 551.9,306.1 566.8,299.3 581.7,288.4 596.6,281.0 611.5,280.8 626.4,268.3" stroke="#1f77b4"/>
<polyline points="119.8,443.7 134.7,441.4 149.6,438.6 164.5,435.9 179.4,433.7 194.3,432.1 209.2,429.6 224.1,424.6 239.0,419.5 253.9,418.2 268.8,412.8 283.7,408.5 298.6,408.5 313.5,406.1 328.4,403.0 343.3,399.9 358.2,398.6 373.1,395.3 388.0,380.4 402.9,374.8 417.8,364.2 432.7,351.8 447.6,338.7 462.5,333.3 477.4,336.3 492.3,325.1 507.2,325.3 522.1,310.3 537.0,310.7 551.9,296.7 566.8,291.2 581.7,276.8 596.6,269.6 611.5,255.6 626.4,232.1" stroke="#ff7f0e"/>
<polyline points="119.8,443.7 134.7,441.2 149.6,439.1 164.5,436.1 179.4,433.7 194.3,431.3 209.2,428.7 224.1,424.0 239.0,420.6 253.9,418.3 268.8,416.1 283.7,412.4 298.6,408.6 313.5,404.6 328.4,398.3 343.3,395.0 358.2,388.2 373.1,384.6 388.0,387.0 402.9,383.8 417.8,376.2 432.7,361.9 447.6,350.8 462.5,338.6 477.4,330.7 492.3,324.6 507.2,311.5 522.1,312.8 537.0,295.9 551.9,279.4 566.8,278.9 581.7,273.4 596.6,250.2 611.5,229.0 626.4,206.8" stroke="#2ca02c"/>
<polyline points="119.8,443.7 134.7,441.1 149.6,438.4 164.5,435.5 179.4,434.4 194.3,431.5 209.2,428.9 224.1,426.2 239.0,422.7 253.9,420.7 268.8,418.9 283.7,415.3 298.6,412.5 313.5,410.3 328.4,402.3 343.3,398.7 358.2,395.2 373.1,390.7 388.0,391.7 402.9,389.8 417.8,385.7 432.7,375.5 447.6,362.5 462.5,353.2 477.4,345.9 492.3,339.1 507.2,332.0 522.1,323.0 537.0,310.9 551.9,293.9 566.8,303.7 581.7,303.4 596.6,302.8 611.5,292.7 626.4,295.1" stroke="#d62728"/>
<polyline points="119.8,443.7 134.7,441.3 149.6,438.6 164.5,436.2 179.4,434.5 194.3,432.0 209.2,430.4 224.1,428.1 239.0,423.2 253.9,417.5 268.8,412.5 283.7,410.0 298.6,408.3 313.5,406.1 328.4,405.0 343.3,397.6 358.2,391.1 373.1,380.4 388.0,375.9 402.9,377.0 417.8,376.9 432.7,371.2 447.6,368.5 462.5,359.3 477.4,345.7 492.3,330.8 507.2,318.6 522.1,309.2 537.0,296.6 551.9,303.9 566.8,305.9 581.7,285.8 596.6,265.7 611.5,242.2 626.4,229.9" stroke="#9467bd"/>
<polyline points="119.8,443.7 134.7,441.4 149.6,438.8 164.5,436.0 179.4,433.1 194.3,432.1 209.2,429.6 224.1,426.2 239.0,422.6 253.9,420.7 268.8,415.2 283.7,411.2 298.6,409.3 313.5,402.4 328.4,393.5 343.3,388.7 358.2,379.9 373.1,373.2 388.0,369.9 402.9,363.1 417.8,350.3 432.7,338.2 447.6,337.5 462.5,334.0 477.4,321.5 492.3,304.2 507.2,291.2 522.1,271.7 537.0,254.3 551.9,249.4 566.8,247.6 581.7,221.6 596.6,232.3 611.5,223.2 626.4,222.9" stroke="#8c564b"/>
<polyline points="119.8,443.7 134.7,441.3 149.6,439.1 164.5,436.1 179.4,434.1 194.3,430.0 209.2,426.5 224.1,426.5 239.0,425.0 253.9,420.6 268.8,416.0 283.7,415.1 298.6,409.7 313.5,405.1 328.4,401.3 343.3,393.9 358.2,386.4 373.1,373.7 388.0,369.3 402.9,367.6 417.8,360.0 432.7,359.5 447.6,359.2 462.5,348.7 477.4,341.8 492.3,326.0 507.2,319.5 522.1,314.1 537.0,304.1 551.9,286.2 566.8,276.3 581.7,255.6 596.6,242.2 611.5,231.3 626.4,207.2" stroke="#e377c2"/>
<polyline points="119.8,443.7 134.7,441.4 149.6,439.1 164.5,436.4 179.4,433.9 194.3,431.3 209.2,428.8 224.1,425.6 239.0,421.3 253.9,418.5 268.8,415.8 283.7,410.7 298.6,407.4 313.5,401.6 328.4,396.1 343.3,391.9 358.2,387.4 373.1,383.8 388.0,376.4 402.9,372.6 417.8,374.6 432.7,372.6 447.6,368.8 462.5,357.0 477.4,358.0 492.3,344.9 507.2,336.7 522.1,324.5 537.0,316.9 551.9,301.5 566.8,271.0 581.7,256.8 596.6,209.1 611.5,199.4 626.4,186.1" stroke="#7f7f7f"/>
<polyline points="119.8,443.7 134.7,441.2 149.6,438.5 164.5,435.3 179.4,432.2 194.3,428.1 209.2,424.7 224.1,421.5 239.0,418.1 253.9,414.6 268.8,414.4 283.7,416.5 298.6,411.8 313.5,409.1 328.4,408.0 343.3,405.4 358.2,402.9 373.1,393.5 388.0,389.2 402.9,385.9 417.8,377.6 432.7,381.3 447.6,379.7 462.5,371.4 477.4,368.6 492.3,360.5 507.2,349.6 522.1,338.3 537.0,334.9 551.9,332.0 566.8,314.9 581.7,307.6 596.6,312.9 611.5,305.3 626.4,300.2" stroke="#bcbd22"/>
<polyline points="119.8,443.7 134.7,441.4 149.6,439.0 164.5,436.7 179.4,433.2 194.3,430.9 209.2,428.3 224.1,425.0 239.0,422.1 253.9,416.2 268.8,414.0 283.7,407.3 298.6,404.7 313.5,400.8 328.4,394.1 343.3,390.4 358.2,387.7 373.1,390.7 388.0,389.9 402.9,382.2 417.8,381.6 432.7,374.8 447.6,369.9 462.5,361.5 477.4,357.7 492.3,351.5 507.2,336.4 522.1,337.7 537.0,331.0 551.9,327.7 566.8,321.7 581.7,315.9 596.6,308.9 611.5,298.4 626.4,299.1" stroke="#17becf"/>
<polyline points="119.8,443.7 134.7,441.3 149.6,439.1 164.5,436.7 179.4,434.0 194.3,431.0 209.2,428.8 224.1,425.1 239.0,423.0 253.9,421.1 268.8,417.7 283.7,416.1 298.6,411.8 313.5,405.3 328.4,400.6 343.3,399.6 358.2,395.3 373.1,386.8 388.0,378.2 402.9,370.9 417.8,365.6 432.7,361.7 447.6,355.8 462.5,354.9 477.4,341.2 492.3,340.7 507.2,324.2 522.1,323.0 537.0,309.7 551.9,305.4 566.8,308.3 581.7,297.6 596.6,273.3 611.5,260.9 626.4,250.9" stroke="#1f77b4"/>
<polyline points="119.8,443.7 134.7,441.5 149.6,439.1 164.5,436.3 179.4,433.5 194.3,429.9 209.2,426.0 224.1,424.5 239.0,420.9 253.9,417.2 268.8,412.2 283.7,409.1 298.6,400.5 313.5,396.6 328.4,396.0 343.3,386.3 358.2,378.7 373.1,377.1 388.0,370.4 402.9,363.8 417.8,359.4 432.7,354.2 447.6,347.1 462.5,338.9 477.4,327.3 492.3,323.5 507.2,311.3 522.1,306.9 537.0,299.3 551.9,291.4 566.8,298.9 581.7,287.9 596.6,282.6 611.5,271.0 626.4,284.0" stroke="#ff7f0e"/>
<polyline points="119.8,443.7 134.7,441.3 149.6,438.5 164.5,435.8 179.4,432.2 194.3,429.8 209.2,428.5 224.1,424.6 239.0,420.4 253.9,418.2 268.8,413.9 283.7,412.3 298.6,408.0 313.5,404.2 328.4,398.2 343.3,397.2 358.2,391.9 373.1,388.8 388.0,379.9 402.9,377.1 417.8,367.6 432.7,357.0 447.6,348.9 462.5,334.8 477.4,325.7 492.3,313.6 507.2,312.4 522.1,304.6 537.0,287.6 551.9,263.6 566.8,261.4 581.7,243.0 596.6,228.5 611.5,219.9 626.4,223.4" stroke="#2ca02c"/>
<polyline points="119.8,443.7 134.7,441.3 149.6,438.2 164.5,435.3 179.4,432.1 194.3,428.8 209.2,426.1 224.1,424.4 239.0,422.2 253.9,417.5 268.8,413.6 283.7,410.5 298.6,408.5 313.5,402.9 328.4,397.4 343.3,392.7 358.2,387.0 373.1,378.3 388.0,373.6 402.9,369.0 417.8,360.0 432.7,352.9 447.6,355.4 462.5,349.2 477.4,356.0 492.3,348.5 507.2,336.7 522.1,324.9 537.0,319.1 551.9,303.1 566.8,290.4 581.7,282.5 596.6,272.5 611.5,259.2 626.4,251.3" stroke="#d62728"/>
<polyline points="119.8,443.7 134.7,441.5 149.6,438.4 164.5,435.5 179.4,432.6 194.3,430.1 209.2,428.5 224.1,426.6 239.0,422.3 253.9,418.5 268.8,413.9 283.7,407.3 298.6,403.9 313.5,395.5 328.4,394.2 343.3,390.1 358.2,382.6 373.1,377.9 388.0,369.9 402.9,357.5 417.8,345.1 432.7,340.1 447.6,335.3 462.5,319.5 477.4,313.1 492.3,304.5 507.2,295.9 522.1,290.8 537.0,275.6 551.9,264.7 566.8,247.6 581.7,250.4 596.6,248.1 611.5,229.6 626.4,220.0" stroke="#9467bd"/>
<polyline points="119.8,443.7 134.7,441.1 149.6,438.5 164.5,435.8 179.4,432.3 194.3,428.8 209.2,427.0 224.1,426.6 239.0,422.9 253.9,421.2 268.8,415.6 283.7,413.2 298.6,408.8 313.5,405.1 328.4,405.1 343.3,403.7 358.2,401.7 373.1,397.1 388.0,394.4 402.9,392.7 417.8,389.3 432.7,383.4 447.6,379.1 462.5,375.0 477.4,369.3 492.3,358.9 507.2,362.4 522.1,355.1 537.0,349.2 551.9,343.3 566.8,342.5 581.7,330.9 596.6,318.2 611.5,296.6 626.4,279.6" stroke="#8c564b"/>
<polyline points="119.8,443.7 134.7,441.1 149.6,438.7 164.5,435.6 179.4,433.7 194.3,431.3 209.2,429.3 224.1,425.9 239.0,423.7 253.9,417.7 268.8,414.3 283.7,413.4 298.6,408.1 313.5,400.7 328.4,395.6 343.3,389.7 358.2,390.1 373.1,389.2 388.0,380.8 402.9,375.4 417.8,368.7 432.7,375.0 447.6,368.0 462.5,365.6 477.4,359.1 492.3,354.6 507.2,338.1 522.1,333.8 537.0,321.5 551.9,318.6 566.8,308.8 581.7,305.2 596.6,305.4 611.5,296.6 626.4,288.6" stroke="#e377c2"/>
<polyline points="119.8,443.7 134.7,441.5 149.6,438.8 164.5,436.7 179.4,433.4 194.3,431.1 209.2,428.9 224.1,425.4 239.0,422.2 253.9,418.6 268.8,415.2 283.7,407.9 298.6,402.4 313.5,396.7 328.4,392.3 343.3,388.9 358.2,379.7 373.1,375.9 388.0,366.6 402.9,362.0 417.8,354.7 432.7,350.4 447.6,345.7 462.5,337.2 477.4,337.8 492.3,321.3 507.2,313.7 522.1,326.7 537.0,304.2 551.9,299.4 566.8,284.7 581.7,274.2 596.6,268.5 611.5,238.4 626.4,245.5" stroke="#7f7f7f"/>
<polyline points="119.8,443.7 134.7,441.1 149.6,438.6 164.5,436.2 179.4,433.7 194.3,430.8 209.2,427.8 224.1,424.0 239.0,417.8 253.9,412.4 268.8,411.8 283.7,405.9 298.6,401.0 313.5,397.4 328.4,396.6 343.3,390.0 358.2,385.5 373.1,381.8 388.0,380.8 402.9,377.0 417.8,369.6 432.7,362.3 447.6,359.7 462.5,362.0 477.4,353.6 492.3,341.7 507.2,327.1 522.1,318.8 537.0,292.7 551.9,289.3 566.8,292.8 581.7,280.9 596.6,267.8 611.5,240.7 626.4,235.0" stroke="#bcbd22"/>
<polyline points="119.8,443.7 134.7,441.1 149.6,438.3 164.5,435.9 179.4,433.2 194.3,431.0 209.2,428.9 224.1,425.7 239.0,422.8 253.9,418.7 268.8,416.3 283.7,412.3 298.6,403.8 313.5,402.5 328.4,397.4 343.3,393.4 358.2,389.5 373.1,384.5 388.0,374.3 402.9,364.5 417.8,367.5 432.7,363.6 447.6,356.9 462.5,358.5 477.4,351.1 492.3,340.8 507.2,333.6 522.1,322.8 537.0,320.5 551.9,304.7 566.8,293.9 581.7,272.4 596.6,239.5 611.5,221.8 626.4,200.8" stroke="#17becf"/>
<polyline points="119.8,443.7 134.7,441.3 149.6,438.7 164.5,436.7 179.4,433.2 194.3,429.9 209.2,427.4 224.1,425.1 239.0,420.1 253.9,416.3 268.8,411.5 283.7,406.1 298.6,402.5 313.5,400.3 328.4,397.1 343.3,386.7 358.2,382.0 373.1,373.3 388.0,368.3 402.9,360.6 417.8,353.3 432.7,351.2 447.6,341.5 462.5,333.1 477.4,324.7 492.3,322.6 507.2,318.2 522.1,295.8 537.0,293.4 551.9,276.5 566.8,278.5 581.7,260.4 596.6,236.0 611.5,247.3 626.4,235.9" stroke="#1f77b4"/>
<polyline points="119.8,443.7 134.7,441.3 149.6,438.8 164.5,436.5 179.4,434.3 194.3,431.5 209.2,428.2 224.1,425.6 239.0,422.6 253.9,419.5 268.8,415.8 283.7,413.3 298.6,409.2 313.5,405.9 328.4,399.1 343.3,393.0 358.2,389.3 373.1,386.6 388.0,381.7 402.9,375.4 417.8,369.1 432.7,366.6 447.6,362.3 462.5,355.1 477.4,353.3 492.3,339.5 507.2,346.3 522.1,338.1 537.0,328.3 551.9,309.8 566.8,293.5 581.7,286.3 596.6,270.5 611.5,263.7 626.4,265.7" stroke="#ff7f0e"/>
<polyline points="119.8,443.7 134.7,441.3 149.6,438.8 164.5,436.3 179.4,433.7 194.3,431.2 209.2,427.2 224.1,423.1 239.0,417.4 253.9,411.1 268.8,408.7 283.7,400.5 298.6,392.7 313.5,388.5 328.4,386.1 343.3,379.3 358.2,372.4 373.1,360.8 388.0,359.5 402.9,356.1 417.8,347.7 432.7,346.4 447.6,344.5 462.5,331.4 477.4,321.3 492.3,305.9 507.2,295.8 522.1,284.6 537.0,264.1 551.9,272.6 566.8,253.9 581.7,251.6 596.6,247.1 611.5,215.4 626.4,205.3" stroke="#2ca02c"/>
<polyline points="119.8,443.7 134.7,441.3 149.6,438.8 164.5,436.1 179.4,434.6 194.3,430.5 209.2,426.0 224.1,424.7 239.0,421.2 253.9,416.9 268.8,413.4 283.7,412.3 298.6,411.6 313.5,407.8 328.4,406.5 343.3,403.8 358.2,401.4 373.1,399.7 388.0,397.3 402.9,390.2 417.8,382.1 432.7,373.2 447.6,366.6 462.5,350.6 477.4,341.2 492.3,347.7 507.2,345.9 522.1,336.7 537.0,331.5 551.9,331.4 566.8,314.6 581.7,313.2 596.6,306.3 611.5,295.9 626.4,295.9" stroke="#d62728"/>
<polyline points="119.8,443.7 134.7,441.2 149.6,438.9 164.5,435.8 179.4,433.0 194.3,430.1 209.2,428.2 224.1,425.7 239.0,424.2 253.9,420.2 268.8,416.6 283.7,414.2 298.6,413.8 313.5,408.6 328.4,404.3 343.3,401.3 358.2,394.6 373.1,394.3 388.0,388.4 402.9,381.4 417.8,375.4 432.7,374.2 447.6,368.6 462.5,359.0 477.4,355.3 492.3,353.2 507.2,349.8 522.1,349.3 537.0,340.6 551.9,338.1 566.8,334.4 581.7,321.0 596.6,296.2 611.5,280.7 626.4,268.8" stroke="#9467bd"/>
<polyline points="119.8,443.7 134.7,441.1 149.6,438.4 164.5,435.6 179.4,433.5 194.3,429.3 209.2,425.7 224.1,420.6 239.0,418.7 253.9,414.5 268.8,413.4 283.7,407.4 298.6,402.9 313.5,397.5 328.4,388.3 343.3,378.7 358.2,377.3 373.1,369.3 388.0,370.0 402.9,354.5 417.8,345.3 432.7,337.6 447.6,338.4 462.5,335.1 477.4,330.0 492.3,329.8 507.2,323.0 522.1,316.1 537.0,296.8 551.9,288.8 566.8,285.3 581.7,279.1 596.6,264.6 611.5,267.7 626.4,248.8" stroke="#8c564b"/>
<polyline points="119.8,443.7 134.7,441.1 149.6,438.7 164.5,435.8 179.4,433.7 194.3,432.2 209.2,428.7 224.1,426.5 239.0,422.0 253.9,416.8 268.8,412.5 283.7,408.9 298.6,407.4 313.5,400.8 328.4,397.0 343.3,388.4 358.2,382.8 373.1,376.9 388.0,367.8 402.9,366.0 417.8,358.7 432.7,345.8 447.6,345.5 462.5,339.6 477.4,334.0 492.3,332.3 507.2,317.3 522.1,306.3 537.0,316.6 551.9,304.8 566.8,291.9 581.7,295.4 596.6,290.0 611.5,273.3 626.4,267.5" stroke="#e377c2"/>
<polyline points="119.8,443.7 134.7,441.3 149.6,438.8 164.5,435.6 179.4,431.9 194.3,430.1 209.2,426.9 224.1,423.7 239.0,421.5 253.9,415.4 268.8,412.2 283.7,407.6 298.6,404.5 313.5,399.6 328.4,397.1 343.3,390.4 358.2,384.3 373.1,383.5 388.0,373.0 402.9,373.1 417.8,375.2 432.7,368.0 447.6,365.5 462.5,362.7 477.4,353.8 492.3,352.1 507.2,349.7 522.1,352.5 537.0,339.7 551.9,328.6 566.8,315.0 581.7,286.5 596.6,274.8 611.5,251.4 626.4,239.2" stroke="#7f7f7f"/>
<polyline points="119.8,443.7 134.7,441.4 149.6,439.1 164.5,436.8 179.4,434.4 194.3,430.5 209.2,427.6 224.1,424.1 239.0,418.8 253.9,412.3 268.8,409.5 283.7,407.7 298.6,401.8 313.5,396.8 328.4,391.7 343.3,384.6 358.2,373.3 373.1,368.3 388.0,364.1 402.9,356.9 417.8,350.7 432.7,342.6 447.6,336.8 462.5,321.3 477.4,325.4 492.3,321.8 507.2,312.8 522.1,312.2 537.0,291.5 551.9,280.9 566.8,268.1 581.7,255.0 596.6,250.1 611.5,226.9 626.4,212.7" stroke="#bcbd22"/>
<polyline points="119.8,443.7 134.7,441.2 149.6,438.3 164.5,435.6 179.4,432.0 194.3,428.4 209.2,424.3 224.1,418.8 239.0,415.5 253.9,408.6 268.8,401.7 283.7,400.3 298.6,395.5 313.5,390.8 328.4,387.0 343.3,379.8 358.2,375.3 373.1,372.3 388.0,371.2 402.9,360.2 417.8,354.2 432.7,354.3 447.6,347.9 462.5,329.9 477.4,316.5 492.3,312.3 507.2,307.1 522.1,308.0 537.0,293.3 551.9,287.0 566.8,265.0 581.7,248.9 596.6,232.8 611.5,195.3 626.4,187.8" stroke="#17becf"/>
<polyline points="119.8,443.7 134.7,441.2 149.6,439.1 164.5,436.5 179.4,433.7 194.3,432.0 209.2,430.5 224.1,426.0 239.0,424.0 253.9,421.9 268.8,418.7 283.7,414.2 298.6,412.0 313.5,408.9 328.4,402.5 343.3,398.5 358.2,393.2 373.1,385.0 388.0,377.0 402.9,370.8 417.8,359.3 432.7,347.4 447.6,344.3 462.5,333.5 477.4,321.0 492.3,304.8 507.2,292.8 522.1,282.8 537.0,273.8 551.9,260.9 566.8,237.2 581.7,217.8 596.6,199.7 611.5,192.9 626.4,164.7" stroke="#1f77b4"/>
<polyline points="119.8,443.7 134.7,441.4 149.6,438.9 164.5,436.7 179.4,433.6 194.3,429.5 209.2,427.9 224.1,426.6 239.0,422.1 253.9,417.9 268.8,414.6 283.7,407.5 298.6,405.7 313.5,398.8 328.4,394.4 343.3,386.0 358.2,386.7 373.1,377.1 388.0,376.9 402.9,367.1 417.8,361.5 432.7,350.1 447.6,351.1 462.5,348.2 477.4,344.6 492.3,332.7 507.2,330.4 522.1,327.7 537.0,318.4 551.9,299.5 566.8,288.9 581.7,261.6 596.6,264.2 611.5,265.0 626.4,253.9" stroke="#ff7f0e"/>
<polyline points="119.8,443.7 134.7,441.4 149.6,439.1 164.5,436.5 179.4,433.6 194.3,431.2 209.2,428.2 224.1,424.3 239.0,421.4 253.9,416.9 268.8,411.8 283.7,408.0 298.6,405.5 313.5,401.7 328.4,399.6 343.3,401.0 358.2,399.5 373.1,397.6 388.0,395.8 402.9,394.7 417.8,393.7 432.7,387.6 447.6,380.2 462.5,370.7 477.4,365.8 492.3,361.1 507.2,367.1 522.1,356.5 537.0,354.2 551.9,351.4 566.8,339.3 581.7,328.2 596.6,322.6 611.5,318.6 626.4,310.4" stroke="#2ca02c"/>
<polyline points="119.8,443.7 134.7,441.4 149.6,439.0 164.5,436.8 179.4,433.6 194.3,430.9 209.2,426.7 224.1,421.9 239.0,418.4 253.9,416.3 268.8,413.0 283.7,409.7 298.6,407.8 313.5,404.1 328.4,401.0 343.3,392.3 358.2,388.1 373.1,385.0 388.0,378.9 402.9,369.2 417.8,363.9 432.7,357.6 447.6,351.5 462.5,345.9 477.4,342.5 492.3,340.5 507.2,336.0 522.1,328.7 537.0,319.1 551.9,303.5 566.8,285.9 581.7,281.2 596.6,270.2 611.5,236.2 626.4,205.8" stroke="#d62728"/>
<polyline points="119.8,443.7 134.7,441.4 149.6,439.0 164.5,435.8 179.4,433.0 194.3,430.1 209.2,427.3 224.1,426.4 239.0,420.7 253.9,416.5 268.8,415.8 283.7,412.4 298.6,411.9 313.5,408.7 328.4,406.3 343.3,399.6 358.2,395.4 373.1,388.8 388.0,380.5 402.9,377.3 417.8,370.4 432.7,366.3 447.6,360.6 462.5,350.3 477.4,331.4 492.3,316.6 507.2,318.6 522.1,312.4 537.0,300.5 551.9,289.9 566.8,278.3 581.7,267.1 596.6,243.3 611.5,228.9 626.4,217.2" stroke="#9467bd"/>
<polyline points="119.8,443.7 134.7,441.2 149.6,439.0 164.5,435.8 179.4,433.6 194.3,431.0 209.2,429.1 224.1,424.7 239.0,421.7 253.9,419.5 268.8,414.7 283.7,412.3 298.6,409.6 313.5,404.0 328.4,395.2 343.3,386.7 358.2,380.0 373.1,370.5 388.0,366.5 402.9,363.7 417.8,349.5 432.7,341.7 447.6,330.3 462.5,322.8 477.4,317.2 492.3,311.6 507.2,304.9 522.1,287.7 537.0,275.3 551.9,263.9 566.8,244.3 581.7,233.1 596.6,248.3 611.5,244.9 626.4,228.9" stroke="#8c564b"/>
<polyline points="119.8,443.7 134.7,441.3 149.6,438.9 164.5,436.4 179.4,433.5 194.3,431.6 209.2,428.6 224.1,425.4 239.0,422.1 253.9,417.7 268.8,414.1 283.7,409.7 298.6,402.0 313.5,394.4 328.4,392.2 343.3,388.1 358.2,381.8 373.1,372.6 388.0,370.1 402.9,368.4 417.8,359.1 432.7,339.6 447.6,337.5 462.5,344.0 477.4,342.8 492.3,333.1 507.2,330.4 522.1,316.7 537.0,304.3 551.9,301.5 566.8,277.8 581.7,269.3 596.6,265.2 611.5,247.8 626.4,228.1" stroke="#e377c2"/>
<polyline points="119.8,443.7 134.7,441.1 149.6,438.3 164.5,435.6 179.4,433.4 194.3,431.1 209.2,426.9 224.1,424.3 239.0,419.5 253.9,413.3 268.8,409.9 283.7,406.4 298.6,406.5 313.5,407.4 328.4,399.8 343.3,395.4 358.2,392.7 373.1,389.5 388.0,380.3 402.9,372.7 417.8,371.7 432.7,362.7 447.6,358.5 462.5,343.0 477.4,314.8 492.3,302.4 507.2,289.1 522.1,289.6 537.0,290.1 551.9,281.5 566.8,289.0 581.7,265.0 596.6,264.6 611.5,245.8 626.4,230.6" stroke="#7f7f7f"/>
<polyline points="119.8,443.7 134.7,441.3 149.6,439.3 164.5,437.0 179.4,434.7 194.3,432.3 209.2,430.6 224.1,425.7 239.0,423.0 253.9,420.3 268.8,416.2 283.7,409.6 298.6,405.6 313.5,404.6 328.4,405.2 343.3,403.7 358.2,400.9 373.1,397.9 388.0,395.9 402.9,394.5 417.8,389.8 432.7,385.7 447.6,379.4 462.5,380.0 477.4,366.6 492.3,361.9 507.2,354.6 522.1,345.2 537.0,334.9 551.9,324.2 566.8,317.9 581.7,311.3 596.6,302.6 611.5,287.8 626.4,272.7" stroke="#bcbd22"/>
<polyline points="119.8,443.7 134.7,441.2 149.6,438.5 164.5,435.7 179.4,432.1 194.3,428.2 209.2,426.6 224.1,422.7 239.0,418.1 253.9,415.9 268.8,411.6 283.7,409.2 298.6,406.5 313.5,402.2 328.4,397.4 343.3,393.1 358.2,390.9 373.1,385.2 388.0,382.9 402.9,380.4 417.8,374.6 432.7,368.9 447.6,366.6 462.5,359.3 477.4,351.1 492.3,338.3 507.2,318.9 522.1,326.4 537.0,328.6 551.9,325.1 566.8,315.5 581.7,307.7 596.6,299.2 611.5,284.6 626.4,256.6" stroke="#17becf"/>
<polyline points="119.8,443.7 134.7,441.6 149.6,439.0 164.5,435.5 179.4,432.0 194.3,429.8 209.2,428.2 224.1,426.9 239.0,425.3 253.9,420.7 268.8,416.8 283.7,410.6 298.6,411.2 313.5,409.5 328.4,407.9 343.3,404.4 358.2,398.9 373.1,391.3 388.0,392.2 402.9,389.4 417.8,383.3 432.7,373.9 447.6,369.6 462.5,368.5 477.4,362.1 492.3,349.9 507.2,357.1 522.1,353.7 537.0,352.0 551.9,350.3 566.8,342.2 581.7,334.1 596.6,315.2 611.5,312.5 626.4,307.8" stroke="#1f77b4"/>
<polyline points="119.8,443.7 134.7,441.4 149.6,438.8 164.5,436.7 179.4,433.8 194.3,430.4 209.2,428.7 224.1,425.4 239.0,421.3 253.9,419.1 268.8,413.3 283.7,405.9 298.6,400.7 313.5,398.3 328.4,393.8 343.3,389.4 358.2,378.4 373.1,375.8 388.0,372.0 402.9,372.6 417.8,361.8 432.7,352.8 447.6,353.9 462.5,342.6 477.4,334.3 492.3,330.9 507.2,329.7 522.1,317.9 537.0,316.7 551.9,311.6 566.8,290.8 581.7,275.4 596.6,266.2 611.5,253.3 626.4,219.9" stroke="#ff7f0e"/>
<polyline points="119.8,443.7 134.7,441.4 149.6,438.3 164.5,435.4 179.4,432.4 194.3,429.7 209.2,425.8 224.1,423.2 239.0,418.9 253.9,415.0 268.8,413.2 283.7,409.5 298.6,402.9 313.5,399.1 328.4,394.2 343.3,395.2 358.2,383.9 373.1,377.8 388.0,368.9 402.9,355.8 417.8,341.1 432.7,330.7 447.6,331.1 462.5,329.9 477.4,312.9 492.3,305.8 507.2,294.3 522.1,290.7 537.0,273.4 551.9,271.6 566.8,253.1 581.7,248.3 596.6,249.7 611.5,231.8 626.4,224.6" stroke="#2ca02c"/>
<polyline points="119.8,443.7 134.7,441.3 149.6,438.2 164.5,435.3 179.4,431.2 194.3,429.1 209.2,425.1 224.1,422.2 239.0,420.8 253.9,417.8 268.8,413.0 283.7,410.3 298.6,406.1 313.5,401.3 328.4,396.5 343.3,387.8 358.2,388.8 373.1,382.8 388.0,376.3 402.9,362.3 417.8,359.5 432.7,350.3 447.6,344.3 462.5,340.7 477.4,336.6 492.3,326.5 507.2,330.9 522.1,313.7 537.0,310.5 551.9,298.4 566.8,297.6 581.7,299.3 596.6,277.2 611.5,270.4 626.4,242.0" stroke="#d62728"/>
<polyline points="119.8,443.7 134.7,441.2 149.6,439.1 164.5,435.4 179.4,431.9 194.3,429.9 209.2,426.0 224.1,422.3 239.0,419.4 253.9,416.8 268.8,410.4 283.7,404.0 298.6,398.9 313.5,391.6 328.4,391.4 343.3,387.9 358.2,377.2 373.1,368.7 388.0,357.7 402.9,349.9 417.8,340.2 432.7,346.4 447.6,345.3 462.5,334.8 477.4,331.3 492.3,329.7 507.2,330.3 522.1,313.0 537.0,303.6 551.9,296.3 566.8,282.6 581.7,286.5 596.6,291.9 611.5,276.0 626.4,272.1" stroke="#9467bd"/>
<polyline points="119.8,443.7 134.7,441.2 149.6,439.0 164.5,435.8 179.4,433.0 194.3,430.8 209.2,427.1 224.1,424.4 239.0,420.1 253.9,415.7 268.8,409.7 283.7,402.9 298.6,395.9 313.5,391.2 328.4,381.2 343.3,377.7 358.2,380.7 373.1,376.6 388.0,354.1 402.9,353.9 417.8,344.3 432.7,336.0 447.6,339.6 462.5,333.1 477.4,323.8 492.3,316.2 507.2,294.0 522.1,292.6 537.0,276.2 551.9,261.8 566.8,253.2 581.7,237.0 596.6,232.5 611.5,231.1 626.4,226.3" stroke="#8c564b"/>
<polyline points="119.8,443.7 134.7,441.3 149.6,438.6 164.5,436.2 179.4,434.0 194.3,431.6 209.2,429.3 224.1,425.7 239.0,423.4 253.9,417.8 268.8,414.0 283.7,409.2 298.6,403.7 313.5,398.5 328.4,398.7 343.3,398.5 358.2,389.4 373.1,385.4 388.0,372.5 402.9,363.4 417.8,357.1 432.7,361.1 447.6,353.6 462.5,345.6 477.4,334.4 492.3,322.1 507.2,307.0 522.1,301.7 537.0,278.7 551.9,268.5 566.8,273.5 581.7,262.0 596.6,257.7 611.5,225.9 626.4,221.5" stroke="#e377c2"/>
<polyline points="119.8,443.7 134.7,441.4 149.6,438.9 164.5,436.2 179.4,434.2 194.3,430.4 209.2,428.3 224.1,425.3 239.0,422.6 253.9,420.2 268.8,414.6 283.7,408.5 298.6,403.5 313.5,402.2 328.4,400.2 343.3,396.8 358.2,391.5 373.1,388.4 388.0,384.6 402.9,375.9 417.8,369.7 432.7,360.3 447.6,352.5 462.5,345.5 477.4,339.7 492.3,336.0 507.2,326.3 522.1,324.8 537.0,327.9 551.9,318.8 566.8,312.0 581.7,303.0 596.6,305.8 611.5,298.5 626.4,294.9" stroke="#7f7f7f"/>
<polyline points="119.8,443.7 134.7,441.2 149.6,438.6 164.5,435.8 179.4,432.9 194.3,431.8 209.2,429.3 224.1,427.7 239.0,423.4 253.9,420.9 268.8,415.8 283.7,413.1 298.6,411.7 313.5,409.2 328.4,407.9 343.3,404.4 358.2,401.1 373.1,398.3 388.0,389.8 402.9,380.2 417.8,374.6 432.7,367.6 447.6,362.1 462.5,351.7 477.4,346.5 492.3,347.8 507.2,343.0 522.1,334.6 537.0,329.9 551.9,318.5 566.8,307.9 581.7,296.8 596.6,282.0 611.5,260.6 626.4,257.4" stroke="#bcbd22"/>
<polyline points="119.8,443.7 134.7,441.5 149.6,439.0 164.5,436.3 179.4,432.9 194.3,430.2 209.2,427.8 224.1,425.1 239.0,421.1 253.9,420.2 268.8,415.9 283.7,410.1 298.6,410.0 313.5,408.6 328.4,405.9 343.3,400.9 358.2,398.5 373.1,393.6 388.0,390.0 402.9,389.5 417.8,383.7 432.7,380.3 447.6,372.9 462.5,366.7 477.4,353.2 492.3,346.8 507.2,335.6 522.1,334.6 537.0,330.9 551.9,317.7 566.8,317.2 581.7,301.3 596.6,284.8 611.5,272.8 626.4,255.7" stroke="#17becf"/>
<polyline points="119.8,443.7 134.7,441.2 149.6,438.5 164.5,435.9 179.4,433.7 194.3,430.3 209.2,427.9 224.1,424.5 239.0,420.4 253.9,417.4 268.8,414.6 283.7,409.6 298.6,407.5 313.5,400.5 328.4,393.2 343.3,392.4 358.2,389.4 373.1,388.8 388.0,379.7 402.9,378.7 417.8,372.4 432.7,368.8 447.6,361.1 462.5,358.8 477.4,351.8 492.3,347.9 507.2,347.0 522.1,336.8 537.0,332.3 551.9,320.3 566.8,315.4 581.7,301.2 596.6,291.3 611.5,270.8 626.4,257.0" stroke="#1f77b4"/>
<polyline points="119.8,443.7 134.7,441.5 149.6,439.3 164.5,437.0 179.4,434.8 194.3,432.7 209.2,429.6 224.1,426.3 239.0,424.2 253.9,419.4 268.8,418.1 283.7,414.2 298.6,410.1 313.5,402.5 328.4,399.6 343.3,399.2 358.2,393.7 373.1,387.5 388.0,378.5 402.9,380.3 417.8,371.2 432.7,361.8 447.6,362.1 462.5,361.5 477.4,354.3 492.3,343.1 507.2,337.7 522.1,333.6 537.0,318.3 551.9,318.6 566.8,330.6 581.7,309.4 596.6,297.5 611.5,287.4 626.4,277.2" stroke="#ff7f0e"/>
<polyline points="119.8,443.7 134.7,441.5 149.6,439.1 164.5,436.5 179.4,434.7 194.3,431.8 209.2,428.7 224.1,426.3 239.0,425.4 253.9,421.2 268.8,416.7 283.7,410.6 298.6,405.8 313.5,397.5 328.4,398.2 343.3,395.9 358.2,390.3 373.1,384.7 388.0,380.9 402.9,379.1 417.8,372.7 432.7,370.8 447.6,364.9 462.5,353.2 477.4,344.5 492.3,337.9 507.2,316.1 522.1,306.0 537.0,309.8 551.9,305.2 566.8,299.5 581.7,272.9 596.6,245.4 611.5,227.7 626.4,244.4" stroke="#2ca02c"/>
<polyline points="119.8,443.7 134.7,441.3 149.6,439.0 164.5,436.2 179.4,432.6 194.3,430.2 209.2,425.0 224.1,421.6 239.0,417.6 253.9,414.4 268.8,412.5 283.7,407.8 298.6,407.8 313.5,405.1 328.4,397.4 343.3,389.7 358.2,386.1 373.1,372.2 388.0,365.9 402.9,364.8 417.8,354.8 432.7,341.5 447.6,327.7 462.5,315.1 477.4,312.9 492.3,296.1 507.2,281.9 522.1,269.1 537.0,261.2 551.9,252.0 566.8,251.7 581.7,231.5 596.6,215.4 611.5,218.8 626.4,184.6" stroke="#d62728"/>
<polyline points="119.8,443.7 134.7,441.3 149.6,439.0 164.5,436.6 179.4,433.7 194.3,431.2 209.2,428.3 224.1,425.4 239.0,421.2 253.9,418.1 268.8,411.4 283.7,409.3 298.6,405.9 313.5,400.5 328.4,395.3 343.3,392.7 358.2,388.1 373.1,381.3 388.0,375.4 402.9,378.2 417.8,375.4 432.7,361.2 447.6,356.6 462.5,353.7 477.4,355.0 492.3,352.8 507.2,346.5 522.1,340.8 537.0,337.4 551.9,325.4 566.8,322.5 581.7,311.4 596.6,316.0 611.5,303.8 626.4,299.2" stroke="#9467bd"/>
<polyline points="119.8,443.7 134.7,441.0 149.6,438.5 164.5,435.4 179.4,432.9 194.3,429.8 209.2,428.0 224.1,423.4 239.0,419.5 253.9,417.9 268.8,409.9 283.7,406.8 298.6,400.3 313.5,395.9 328.4,395.0 343.3,391.2 358.2,388.7 373.1,384.5 388.0,376.9 402.9,369.2 417.8,361.4 432.7,359.5 447.6,351.6 462.5,350.9 477.4,354.4 492.3,344.0 507.2,336.5 522.1,328.4 537.0,326.1 551.9,318.0 566.8,319.4 581.7,303.2 596.6,300.7 611.5,278.7 626.4,265.6" stroke="#8c564b"/>
<polyline points="119.8,443.7 134.7,441.1 149.6,438.8 164.5,435.9 179.4,432.0 194.3,429.7 209.2,426.0 224.1,423.8 239.0,420.9 253.9,417.4 268.8,414.0 283.7,408.5 298.6,403.2 313.5,400.3 328.4,396.8 343.3,391.1 358.2,387.4 373.1,385.4 388.0,380.4 402.9,373.4 417.8,364.4 432.7,364.3 447.6,358.4 462.5,354.8 477.4,348.4 492.3,337.8 507.2,334.9 522.1,313.0 537.0,290.2 551.9,282.8 566.8,283.1 581.7,271.8 596.6,238.1 611.5,231.5 626.4,223.6" stroke="#e377c2"/>
<polyline points="119.8,443.7 134.7,441.1 149.6,438.4 164.5,436.0 179.4,432.2 194.3,428.9 209.2,425.2 224.1,421.4 239.0,418.3 253.9,413.5 268.8,409.9 283.7,411.2 298.6,405.2 313.5,402.7 328.4,395.6 343.3,393.8 358.2,392.1 373.1,387.7 388.0,387.1 402.9,382.6 417.8,382.6 432.7,383.0 447.6,377.2 462.5,367.8 477.4,363.2 492.3,358.6 507.2,358.7 522.1,351.3 537.0,347.6 551.9,347.2 566.8,344.8 581.7,326.5 596.6,326.0 611.5,316.2 626.4,313.6" stroke="#7f7f7f"/>
<polyline points="119.8,443.7 134.7,441.4 149.6,439.1 164.5,436.8 179.4,433.6 194.3,430.7 209.2,427.0 224.1,424.1 239.0,416.9 253.9,410.8 268.8,408.4 283.7,402.4 298.6,404.1 313.5,401.6 328.4,394.6 343.3,392.0 358.2,390.2 373.1,390.2 388.0,382.7 402.9,377.5 417.8,372.3 432.7,366.4 447.6,361.2 462.5,359.2 477.4,354.7 492.3,341.1 507.2,329.3 522.1,313.2 537.0,297.8 551.9,297.2 566.8,280.0 581.7,287.9 596.6,251.1 611.5,228.2 626.4,211.8" stroke="#bcbd22"/>
<polyline points="119.8,443.7 134.7,441.3 149.6,439.2 164.5,436.4 179.4,434.8 194.3,431.8 209.2,428.4 224.1,425.2 239.0,422.0 253.9,416.4 268.8,412.5 283.7,406.1 298.6,400.9 313.5,397.9 328.4,394.0 343.3,389.2 358.2,386.5 373.1,380.1 388.0,380.7 402.9,378.0 417.8,375.3 432.7,360.7 447.6,356.7 462.5,347.0 477.4,340.1 492.3,322.6 507.2,302.9 522.1,294.6 537.0,306.9 551.9,312.2 566.8,307.1 581.7,286.0 596.6,256.0 611.5,227.0 626.4,214.4" stroke="#17becf"/>
<polyline points="119.8,443.7 134.7,441.5 149.6,439.0 164.5,436.5 179.4,433.9 194.3,431.6 209.2,427.7 224.1,424.8 239.0,421.3 253.9,418.8 268.8,414.6 283.7,409.1 298.6,404.0 313.5,401.4 328.4,398.8 343.3,400.2 358.2,390.9 373.1,381.8 388.0,371.7 402.9,364.0 417.8,349.6 432.7,337.6 447.6,325.9 462.5,312.3 477.4,307.0 492.3,292.3 507.2,277.7 522.1,269.5 537.0,262.2 551.9,251.6 566.8,243.1 581.7,228.5 596.6,214.0 611.5,195.9 626.4,195.8" stroke="#1f77b4"/>
<polyline points="119.8,443.7 134.7,441.6 149.6,438.9 164.5,435.9 179.4,433.8 194.3,430.9 209.2,427.5 224.1,424.5 239.0,419.7 253.9,418.0 268.8,412.3 283.7,410.0 298.6,401.7 313.5,399.2 328.4,395.1 343.3,393.2 358.2,392.5 373.1,386.1 388.0,383.9 402.9,378.4 417.8,369.0 432.7,350.3 447.6,345.6 462.5,331.5 477.4,316.9 492.3,319.0 507.2,312.2 522.1,290.6 537.0,291.9 551.9,283.1 566.8,259.0 581.7,258.5 596.6,264.5 611.5,264.4 626.4,273.4" stroke="#ff7f0e"/>
<polyline points="119.8,443.7 134.7,441.5 149.6,439.1 164.5,436.9 179.4,434.8 194.3,429.4 209.2,426.1 224.1,422.9 239.0,418.7 253.9,415.1 268.8,412.6 283.7,412.7 298.6,408.8 313.5,403.6 328.4,402.2 343.3,398.0 358.2,395.1 373.1,391.4 388.0,384.8 402.9,381.2 417.8,374.5 432.7,371.9 447.6,366.0 462.5,350.5 477.4,335.7 492.3,323.7 507.2,316.9 522.1,317.4 537.0,291.4 551.9,280.1 566.8,275.1 581.7,275.2 596.6,275.8 611.5,271.5 626.4,269.4" stroke="#2ca02c"/>
<polyline points="119.8,443.7 134.7,441.1 149.6,439.1 164.5,436.8 179.4,433.7 194.3,431.3 209.2,428.2 224.1,426.3 239.0,421.9 253.9,418.0 268.8,413.6 283.7,409.7 298.6,400.7 313.5,397.2 328.4,392.3 343.3,383.9 358.2,376.8 373.1,374.2 388.0,363.9 402.9,348.0 417.8,329.7 432.7,326.4 447.6,327.8 462.5,326.1 477.4,311.8 492.3,312.0 507.2,312.7 522.1,308.5 537.0,296.1 551.9,284.1 566.8,257.9 581.7,256.0 596.6,254.3 611.5,244.5 626.4,242.6" stroke="#d62728"/>
<polyline points="119.8,443.7 134.7,441.3 149.6,438.9 164.5,435.5 179.4,432.4 194.3,430.2 209.2,426.0 224.1,423.5 239.0,420.0 253.9,416.1 268.8,412.6 283.7,404.8 298.6,396.1 313.5,391.6 328.4,389.6 343.3,384.2 358.2,374.4 373.1,373.4 388.0,367.3 402.9,363.7 417.8,361.5 432.7,350.7 447.6,344.7 462.5,337.3 477.4,318.4 492.3,317.5 507.2,308.8 522.1,288.6 537.0,281.6 551.9,270.8 566.8,257.1 581.7,223.1 596.6,217.4 611.5,201.1 626.4,173.1" stroke="#9467bd"/>
<polyline points="119.8,443.7 134.7,441.3 149.6,438.8 164.5,436.0 179.4,433.3 194.3,430.2 209.2,427.2 224.1,424.6 239.0,422.3 253.9,417.1 268.8,412.9 283.7,409.3 298.6,405.0 313.5,400.2 328.4,394.7 343.3,387.0 358.2,378.3 373.1,382.7 388.0,375.2 402.9,373.2 417.8,370.6 432.7,370.9 447.6,361.5 462.5,351.5 477.4,343.5 492.3,340.0 507.2,329.4 522.1,330.8 537.0,322.3 551.9,315.5 566.8,315.4 581.7,308.8 596.6,307.1 611.5,284.6 626.4,266.4" stroke="#8c564b"/>
<polyline points="119.8,443.7 134.7,441.2 149.6,439.3 164.5,436.5 179.4,434.1 194.3,430.5 209.2,427.3 224.1,423.8 239.0,423.0 253.9,419.1 268.8,417.2 283.7,411.8 298.6,406.7 313.5,400.4 328.4,394.6 343.3,386.7 358.2,379.2 373.1,373.2 388.0,366.7 402.9,356.9 417.8,354.2 432.7,350.8 447.6,359.9 462.5,353.5 477.4,355.7 492.3,352.2 507.2,350.2 522.1,340.4 537.0,330.8 551.9,331.5 566.8,329.1 581.7,334.7 596.6,316.5 611.5,305.5 626.4,284.7" stroke="#e377c2"/>
<polyline points="119.8,443.7 134.7,441.3 149.6,438.5 164.5,436.5 179.4,432.9 194.3,429.4 209.2,426.0 224.1,423.3 239.0,417.0 253.9,413.4 268.8,407.6 283.7,404.0 298.6,399.9 313.5,393.9 328.4,384.4 343.3,376.4 358.2,370.3 373.1,368.4 388.0,361.9 402.9,353.3 417.8,352.2 432.7,341.3 447.6,340.1 462.5,335.6 477.4,332.7 492.3,332.8 507.2,332.0 522.1,334.7 537.0,328.1 551.9,314.2 566.8,312.2 581.7,285.7 596.6,283.3 611.5,274.2 626.4,252.1" stroke="#7f7f7f"/>
<polyline points="119.8,443.7 134.7,441.4 149.6,439.2 164.5,436.7 179.4,433.9 194.3,431.6 209.2,429.2 224.1,426.1 239.0,420.3 253.9,416.1 268.8,411.7 283.7,408.7 298.6,401.4 313.5,397.3 328.4,388.6 343.3,384.9 358.2,379.0 373.1,369.3 388.0,368.0 402.9,361.7 417.8,364.2 432.7,358.8 447.6,351.0 462.5,342.6 477.4,339.8 492.3,326.6 507.2,320.9 522.1,319.8 537.0,313.4 551.9,308.7 566.8,315.8 581.7,311.2 596.6,299.2 611.5,284.1 626.4,270.1" stroke="#bcbd22"/>
<polyline points="119.8,443.7 134.7,441.4 149.6,438.8 164.5,436.1 179.4,432.8 194.3,431.1 209.2,427.1 224.1,423.4 239.0,418.7 253.9,416.9 268.8,417.3 283.7,411.5 298.6,406.5 313.5,405.5 328.4,401.6 343.3,397.7 358.2,390.5 373.1,387.8 388.0,377.0 402.9,371.4 417.8,362.0 432.7,350.9 447.6,339.9 462.5,324.9 477.4,319.6 492.3,319.6 507.2,324.0 522.1,328.3 537.0,319.5 551.9,315.3 566.8,317.9 581.7,320.6 596.6,299.8 611.5,281.0 626.4,291.2" stroke="#17becf"/>
<polyline points="119.8,443.7 134.7,441.6 149.6,439.5 164.5,437.4 179.4,434.7 194.3,431.8 209.2,428.4 224.1,423.8 239.0,420.5 253.9,419.8 268.8,417.1 283.7,412.1 298.6,410.1 313.5,406.7 328.4,404.1 343.3,399.3 358.2,389.5 373.1,383.4 388.0,374.7 402.9,363.9 417.8,360.6 432.7,352.2 447.6,345.1 462.5,347.0 477.4,333.2 492.3,321.7 507.2,313.4 522.1,320.3 537.0,298.2 551.9,292.6 566.8,295.5 581.7,286.2 596.6,274.2 611.5,261.5 626.4,238.6" stroke="#1f77b4"/>
<polyline points="119.8,443.7 134.7,441.5 149.6,438.6 164.5,436.0 179.4,433.0 194.3,429.3 209.2,427.1 224.1,423.5 239.0,419.9 253.9,416.5 268.8,410.4 283.7,408.8 298.6,398.9 313.5,397.3 328.4,391.4 343.3,389.3 358.2,380.7 373.1,375.9 388.0,371.0 402.9,371.4 417.8,369.7 432.7,355.8 447.6,352.8 462.5,349.4 477.4,340.3 492.3,331.2 507.2,319.4 522.1,313.2 537.0,320.8 551.9,325.3 566.8,311.4 581.7,313.0 596.6,311.3 611.5,304.3 626.4,299.8" stroke="#ff7f0e"/>
<polyline points="119.8,443.7 134.7,441.3 149.6,438.6 164.5,435.5 179.4,432.0 194.3,428.2 209.2,425.5 224.1,421.4 239.0,415.8 253.9,411.5 268.8,405.1 283.7,401.6 298.6,393.3 313.5,387.7 328.4,384.3 343.3,375.9 358.2,372.3 373.1,366.2 388.0,356.8 402.9,352.1 417.8,334.8 432.7,335.2 447.6,330.3 462.5,320.3 477.4,299.7 492.3,305.6 507.2,312.9 522.1,293.8 537.0,293.5 551.9,295.2 566.8,297.8 581.7,293.5 596.6,289.4 611.5,283.7 626.4,284.2" stroke="#2ca02c"/>
<polyline points="119.8,443.7 134.7,441.3 149.6,439.1 164.5,436.2 179.4,433.7 194.3,431.1 209.2,428.3 224.1,426.1 239.0,422.6 253.9,419.8 268.8,417.5 283.7,412.5 298.6,410.7 313.5,406.1 328.4,401.5 343.3,400.0 358.2,394.0 373.1,389.2 388.0,383.5 402.9,371.7 417.8,367.6 432.7,357.2 447.6,345.1 462.5,340.5 477.4,326.3 492.3,311.2 507.2,305.3 522.1,291.0 537.0,281.6 551.9,258.8 566.8,239.2 581.7,232.0 596.6,204.1 611.5,188.8 626.4,166.4" stroke="#d62728"/>
<polyline points="119.8,443.7 134.7,441.1 149.6,439.3 164.5,436.6 179.4,434.5 194.3,431.4 209.2,428.0 224.1,425.9 239.0,423.5 253.9,421.0 268.8,418.1 283.7,415.0 298.6,413.7 313.5,409.3 328.4,407.5 343.3,407.0 358.2,400.8 373.1,394.0 388.0,394.8 402.9,389.9 417.8,386.9 432.7,381.8 447.6,372.1 462.5,363.3 477.4,361.2 492.3,348.0 507.2,346.6 522.1,340.0 537.0,330.4 551.9,316.0 566.8,286.4 581.7,291.7 596.6,303.0 611.5,283.9 626.4,274.3" stroke="#9467bd"/>
<polyline points="119.8,443.7 134.7,441.3 149.6,438.4 164.5,435.5 179.4,432.5 194.3,428.1 209.2,424.4 224.1,419.8 239.0,417.1 253.9,413.7 268.8,407.9 283.7,403.2 298.6,398.4 313.5,396.0 328.4,386.4 343.3,385.2 358.2,375.7 373.1,374.1 388.0,371.4 402.9,362.2 417.8,351.5 432.7,346.0 447.6,342.1 462.5,335.1 477.4,329.3 492.3,320.4 507.2,305.4 522.1,296.5 537.0,290.4 551.9,265.0 566.8,239.7 581.7,221.0 596.6,214.7 611.5,224.4 626.4,206.1" stroke="#8c564b"/>
<polyline points="119.8,443.7 134.7,441.4 149.6,439.2 164.5,436.3 179.4,434.1 194.3,431.7 209.2,429.3 224.1,426.1 239.0,420.9 253.9,417.1 268.8,414.7 283.7,409.3 298.6,403.3 313.5,404.7 328.4,399.0 343.3,394.4 358.2,391.1 373.1,390.4 388.0,383.7 402.9,377.5 417.8,375.4 432.7,366.7 447.6,361.9 462.5,356.4 477.4,352.3 492.3,340.1 507.2,333.4 522.1,324.1 537.0,332.6 551.9,330.9 566.8,335.4 581.7,338.9 596.6,340.0 611.5,337.0 626.4,335.0" stroke="#e377c2"/>
<polyline points="119.8,443.7 134.7,441.6 149.6,439.2 164.5,436.9 179.4,433.7 194.3,430.2 209.2,426.4 224.1,424.1 239.0,420.9 253.9,416.7 268.8,413.1 283.7,414.8 298.6,408.1 313.5,399.0 328.4,392.9 343.3,391.1 358.2,387.5 373.1,384.9 388.0,379.9 402.9,372.6 417.8,369.4 432.7,355.9 447.6,345.3 462.5,346.5 477.4,337.1 492.3,331.5 507.2,314.0 522.1,298.5 537.0,281.7 551.9,288.1 566.8,298.0 581.7,288.0 596.6,284.6 611.5,267.6 626.4,258.3" stroke="#7f7f7f"/>
<polyline points="119.8,443.7 134.7,441.2 149.6,438.4 164.5,436.3 179.4,434.6 194.3,432.0 209.2,430.2 224.1,426.7 239.0,423.8 253.9,419.5 268.8,412.6 283.7,408.1 298.6,404.3 313.5,401.9 328.4,400.2 343.3,397.5 358.2,391.9 373.1,392.8 388.0,378.5 402.9,372.9 417.8,376.0 432.7,370.8 447.6,360.3 462.5,346.7 477.4,341.5 492.3,337.4 507.2,322.6 522.1,306.4 537.0,296.4 551.9,275.7 566.8,274.0 581.7,243.8 596.6,227.6 611.5,202.4 626.4,195.1" stroke="#bcbd22"/>
<polyline points="119.8,443.7 134.7,441.3 149.6,438.7 164.5,436.7 179.4,433.7 194.3,430.8 209.2,427.6 224.1,423.5 239.0,418.1 253.9,415.0 268.8,409.0 283.7,403.0 298.6,400.7 313.5,394.0 328.4,384.7 343.3,385.8 358.2,380.3 373.1,375.4 388.0,364.1 402.9,356.4 417.8,346.7 432.7,333.4 447.6,327.2 462.5,319.9 477.4,302.5 492.3,297.8 507.2,278.0 522.1,274.6 537.0,278.0 551.9,279.3 566.8,259.0 581.7,254.0 596.6,243.2 611.5,236.2 626.4,229.3" stroke="#17becf"/>
<polyline points="119.8,443.7 134.7,441.2 149.6,438.5 164.5,435.9 179.4,432.1 194.3,430.0 209.2,426.7 224.1,422.6 239.0,420.9 253.9,417.6 268.8,413.2 283.7,410.6 298.6,406.6 313.5,403.2 328.4,396.9 343.3,393.7 358.2,387.4 373.1,386.7 388.0,380.0 402.9,379.0 417.8,365.8 432.7,366.3 447.6,360.0 462.5,356.6 477.4,344.9 492.3,345.0 507.2,337.2 522.1,328.4 537.0,319.2 551.9,304.3 566.8,281.7 581.7,265.4 596.6,245.7 611.5,220.4 626.4,201.5" stroke="#1f77b4"/>
<polyline points="119.8,443.7 134.7,441.4 149.6,439.1 164.5,436.1 179.4,434.1 194.3,431.9 209.2,427.6 224.1,423.3 239.0,419.3 253.9,413.9 268.8,412.6 283.7,406.8 298.6,400.1 313.5,399.2 328.4,392.6 343.3,386.0 358.2,386.0 373.1,378.5 388.0,363.5 402.9,356.2 417.8,348.2 432.7,347.3 447.6,345.0 462.5,332.1 477.4,329.7 492.3,320.6 507.2,310.7 522.1,310.8 537.0,295.4 551.9,282.3 566.8,258.8 581.7,241.2 596.6,207.4 611.5,171.4 626.4,150.2" stroke="#ff7f0e"/>
<polyline points="119.8,443.7 134.7,441.3 149.6,438.5 164.5,436.5 179.4,434.2 194.3,431.5 209.2,427.9 224.1,423.5 239.0,418.1 253.9,413.7 268.8,410.4 283.7,407.2 298.6,400.3 313.5,399.7 328.4,390.4 343.3,389.1 358.2,385.4 373.1,380.4 388.0,376.0 402.9,369.1 417.8,362.0 432.7,356.1 447.6,357.3 462.5,356.8 477.4,347.0 492.3,345.8 507.2,330.6 522.1,327.5 537.0,306.9 551.9,291.0 566.8,277.5 581.7,265.9 596.6,249.0 611.5,248.5 626.4,229.0" stroke="#2ca02c"/>
<polyline points="119.8,443.7 134.7,441.4 149.6,438.9 164.5,436.2 179.4,434.3 194.3,431.6 209.2,429.1 224.1,425.6 239.0,422.1 253.9,416.9 268.8,412.2 283.7,411.2 298.6,406.4 313.5,403.4 328.4,399.1 343.3,390.5 358.2,381.0 373.1,373.0 388.0,372.4 402.9,368.7 417.8,362.9 432.7,351.9 447.6,343.6 462.5,334.2 477.4,320.5 492.3,313.9 507.2,289.0 522.1,277.8 537.0,289.5 551.9,272.1 566.8,260.7 581.7,256.6 596.6,253.8 611.5,217.7 626.4,228.5" stroke="#d62728"/>
<polyline points="119.8,443.7 134.7,441.3 149.6,438.5 164.5,436.3 179.4,434.0 194.3,431.1 209.2,427.5 224.1,423.9 239.0,420.9 253.9,418.1 268.8,414.4 283.7,411.9 298.6,408.1 313.5,403.2 328.4,396.3 343.3,394.1 358.2,385.1 373.1,376.5 388.0,365.1 402.9,362.0 417.8,364.1 432.7,353.2 447.6,348.6 462.5,331.6 477.4,323.9 492.3,317.4 507.2,307.6 522.1,310.2 537.0,306.1 551.9,293.7 566.8,281.2 581.7,271.6 596.6,263.6 611.5,261.3 626.4,245.2" stroke="#9467bd"/>
<polyline points="119.8,443.7 134.7,441.2 149.6,439.0 164.5,436.4 179.4,433.8 194.3,430.8 209.2,427.8 224.1,423.9 239.0,422.8 253.9,421.5 268.8,415.5 283.7,410.7 298.6,405.2 313.5,399.9 328.4,391.1 343.3,385.5 358.2,383.3 373.1,369.8 388.0,366.0 402.9,367.4 417.8,358.2 432.7,359.6 447.6,362.6 462.5,360.3 477.4,347.4 492.3,336.2 507.2,329.0 522.1,321.3 537.0,305.7 551.9,301.4 566.8,296.8 581.7,285.5 596.6,264.3 611.5,236.9 626.4,245.6" stroke="#8c564b"/>
<polyline points="119.8,443.7 134.7,441.4 149.6,438.9 164.5,436.4 179.4,432.7 194.3,428.4 209.2,424.2 224.1,417.5 239.0,410.6 253.9,404.0 268.8,398.0 283.7,392.9 298.6,388.5 313.5,378.2 328.4,369.4 343.3,368.0 358.2,362.0 373.1,357.7 388.0,347.4 402.9,333.5 417.8,326.0 432.7,319.5 447.6,311.6 462.5,310.7 477.4,292.0 492.3,267.8 507.2,239.6 522.1,211.0 537.0,192.2 551.9,181.6 566.8,167.0 581.7,161.5 596.6,139.0 611.5,159.5 626.4,161.6" stroke="#e377c2"/>
<polyline points="119.8,443.7 134.7,441.2 149.6,438.6 164.5,435.8 179.4,433.4 194.3,431.6 209.2,427.8 224.1,423.2 239.0,422.4 253.9,421.3 268.8,416.1 283.7,415.1 298.6,408.2 313.5,406.7 328.4,401.3 343.3,400.4 358.2,395.9 373.1,394.4 388.0,396.3 402.9,393.6 417.8,384.6 432.7,375.1 447.6,372.5 462.5,372.5 477.4,369.8 492.3,365.4 507.2,357.9 522.1,336.3 537.0,336.5 551.9,323.3 566.8,326.8 581.7,309.6 596.6,306.2 611.5,284.3 626.4,287.4" stroke="#7f7f7f"/>
<polyline points="119.8,443.7 134.7,441.3 149.6,438.4 164.5,436.0 179.4,434.2 194.3,431.1 209.2,429.8 224.1,428.0 239.0,422.7 253.9,420.1 268.8,418.1 283.7,412.9 298.6,410.9 313.5,407.3 328.4,406.9 343.3,403.2 358.2,399.1 373.1,397.2 388.0,392.3 402.9,395.1 417.8,390.1 432.7,387.1 447.6,384.8 462.5,377.1 477.4,365.9 492.3,358.8 507.2,351.2 522.1,348.8 537.0,339.0 551.9,351.9 566.8,334.0 581.7,321.7 596.6,308.8 611.5,304.1 626.4,300.9" stroke="#bcbd22"/>
<polyline points="119.8,443.7 134.7,441.4 149.6,438.9 164.5,435.9 179.4,433.3 194.3,430.1 209.2,427.1 224.1,423.1 239.0,417.7 253.9,413.8 268.8,410.1 283.7,406.9 298.6,402.6 313.5,397.7 328.4,396.5 343.3,395.0 358.2,390.2 373.1,386.9 388.0,386.7 402.9,379.1 417.8,374.3 432.7,378.9 447.6,378.8 462.5,369.9 477.4,361.3 492.3,347.9 507.2,346.3 522.1,334.8 537.0,334.7 551.9,328.2 566.8,326.2 581.7,325.4 596.6,320.0 611.5,314.8 626.4,302.0" stroke="#17becf"/>
<polyline points="119.8,443.7 134.7,441.3 149.6,438.8 164.5,436.3 179.4,432.4 194.3,430.5 209.2,428.6 224.1,425.4 239.0,422.0 253.9,418.6 268.8,413.6 283.7,411.2 298.6,408.8 313.5,403.4 328.4,396.7 343.3,393.0 358.2,385.2 373.1,376.8 388.0,374.0 402.9,368.3 417.8,359.3 432.7,356.3 447.6,352.8 462.5,353.3 477.4,340.7 492.3,337.5 507.2,331.8 522.1,336.2 537.0,324.6 551.9,326.7 566.8,313.4 581.7,308.8 596.6,308.0 611.5,301.5 626.4,320.0" stroke="#1f77b4"/>
<polyline points="119.8,443.7 134.7,441.3 149.6,439.0 164.5,436.8 179.4,433.8 194.3,431.5 209.2,428.8 224.1,424.3 239.0,422.8 253.9,420.6 268.8,416.8 283.7,412.4 298.6,407.3 313.5,403.2 328.4,398.7 343.3,394.4 358.2,387.3 373.1,381.2 388.0,381.0 402.9,373.1 417.8,364.9 432.7,350.6 447.6,344.3 462.5,329.6 477.4,321.5 492.3,307.6 507.2,292.9 522.1,276.5 537.0,266.8 551.9,254.5 566.8,227.0 581.7,218.0 596.6,204.4 611.5,172.0 626.4,143.7" stroke="#ff7f0e"/>
<polyline points="119.8,443.7 134.7,441.6 149.6,439.3 164.5,436.2 179.4,434.7 194.3,432.7 209.2,429.2 224.1,426.4 239.0,424.8 253.9,422.4 268.8,419.1 283.7,414.0 298.6,410.7 313.5,405.3 328.4,401.4 343.3,397.0 358.2,390.5 373.1,388.2 388.0,384.3 402.9,384.2 417.8,382.3 432.7,373.8 447.6,365.4 462.5,361.0 477.4,357.1 492.3,355.0 507.2,356.5 522.1,350.5 537.0,342.1 551.9,338.6 566.8,327.1 581.7,329.1 596.6,332.6 611.5,327.0 626.4,330.5" stroke="#2ca02c"/>
<polyline points="119.8,443.7 134.7,441.3 149.6,438.8 164.5,436.2 179.4,432.7 194.3,428.4 209.2,425.6 224.1,420.1 239.0,420.2 253.9,417.8 268.8,416.9 283.7,410.9 298.6,406.6 313.5,400.4 328.4,396.4 343.3,391.3 358.2,388.9 373.1,386.5 388.0,380.5 402.9,373.3 417.8,369.8 432.7,368.9 447.6,362.7 462.5,360.0 477.4,352.2 492.3,348.3 507.2,340.8 522.1,328.1 537.0,311.1 551.9,291.5 566.8,286.8 581.7,262.3 596.6,247.8 611.5,224.5 626.4,212.9" stroke="#d62728"/>
<polyline points="119.8,443.7 134.7,441.3 149.6,438.5 164.5,435.5 179.4,431.9 194.3,428.4 209.2,425.6 224.1,421.7 239.0,417.8 253.9,413.9 268.8,411.9 283.7,407.8 298.6,401.5 313.5,396.2 328.4,390.8 343.3,384.3 358.2,378.7 373.1,378.6 388.0,378.7 402.9,374.9 417.8,364.0 432.7,354.0 447.6,345.6 462.5,335.6 477.4,323.0 492.3,326.9 507.2,318.7 522.1,315.6 537.0,310.9 551.9,283.6 566.8,271.7 581.7,255.4 596.6,268.9 611.5,257.6 626.4,251.9" stroke="#9467bd"/>
<polyline points="119.8,443.7 134.7,441.5 149.6,438.9 164.5,435.4 179.4,432.4 194.3,429.8 209.2,426.9 224.1,423.5 239.0,420.1 253.9,417.4 268.8,412.0 283.7,411.2 298.6,403.9 313.5,396.4 328.4,389.9 343.3,389.3 358.2,387.8 373.1,378.9 388.0,374.3 402.9,365.7 417.8,361.7 432.7,363.6 447.6,352.4 462.5,349.3 477.4,335.9 492.3,335.6 507.2,327.9 522.1,313.9 537.0,324.4 551.9,313.9 566.8,308.6 581.7,293.0 596.6,291.6 611.5,274.7 626.4,285.3" stroke="#8c564b"/>
<polyline points="119.8,443.7 134.7,441.4 149.6,438.7 164.5,436.2 179.4,433.1 194.3,429.3 209.2,426.5 224.1,423.9 239.0,421.3 253.9,418.8 268.8,412.8 283.7,405.5 298.6,402.1 313.5,393.0 328.4,388.7 343.3,382.6 358.2,373.9 373.1,363.0 388.0,359.7 402.9,352.2 417.8,342.1 432.7,327.4 447.6,321.8 462.5,317.2 477.4,303.9 492.3,296.6 507.2,280.1 522.1,245.7 537.0,232.0 551.9,217.0 566.8,188.0 581.7,164.6 596.6,164.6 611.5,139.2 626.4,140.0" stroke="#e377c2"/>
<polyline points="119.8,443.7 134.7,441.2 149.6,438.6 164.5,435.8 179.4,433.0 194.3,429.7 209.2,425.8 224.1,421.4 239.0,418.5 253.9,416.1 268.8,415.4 283.7,414.8 298.6,410.1 313.5,407.7 328.4,406.1 343.3,400.5 358.2,396.9 373.1,392.5 388.0,390.3 402.9,383.8 417.8,373.6 432.7,359.8 447.6,347.4 462.5,343.7 477.4,322.5 492.3,316.7 507.2,302.2 522.1,282.4 537.0,266.7 551.9,253.9 566.8,234.7 581.7,209.2 596.6,207.9 611.5,163.4 626.4,154.0" stroke="#7f7f7f"/>
<polyline points="119.8,443.7 134.7,441.2 149.6,439.0 164.5,437.0 179.4,433.5 194.3,430.3 209.2,426.9 224.1,423.0 239.0,417.6 253.9,413.5 268.8,407.6 283.7,405.4 298.6,402.7 313.5,398.1 328.4,390.4 343.3,388.6 358.2,388.8 373.1,383.9 388.0,379.5 402.9,372.0 417.8,360.9 432.7,362.0 447.6,355.8 462.5,352.1 477.4,345.4 492.3,345.5 507.2,343.5 522.1,336.7 537.0,334.8 551.9,337.5 566.8,333.5 581.7,338.0 596.6,329.7 611.5,329.0 626.4,341.0" stroke="#bcbd22"/>
<polyline points="119.8,443.7 134.7,441.3 149.6,438.7 164.5,435.8 179.4,432.6 194.3,430.3 209.2,425.9 224.1,422.7 239.0,420.1 253.9,416.5 268.8,411.2 283.7,402.8 298.6,397.4 313.5,391.2 328.4,381.0 343.3,369.4 358.2,360.6 373.1,350.4 388.0,349.8 402.9,347.9 417.8,336.5 432.7,337.7 447.6,331.0 462.5,324.5 477.4,322.9 492.3,314.3 507.2,311.5 522.1,320.5 537.0,311.9 551.9,308.6 566.8,292.1 581.7,290.3 596.6,288.7 611.5,271.7 626.4,246.3" stroke="#17becf"/>
<polyline points="119.8,443.7 134.7,441.3 149.6,439.3 164.5,437.7 179.4,435.4 194.3,432.1 209.2,428.2 224.1,425.1 239.0,419.9 253.9,414.2 268.8,410.3 283.7,406.3 298.6,401.4 313.5,395.0 328.4,387.8 343.3,386.0 358.2,384.0 373.1,377.5 388.0,372.0 402.9,362.1 417.8,353.0 432.7,335.3 447.6,322.0 462.5,304.8 477.4,297.7 492.3,278.4 507.2,271.0 522.1,260.0 537.0,252.8 551.9,245.6 566.8,230.0 581.7,215.7 596.6,196.6 611.5,187.7 626.4,150.6" stroke="#1f77b4"/>
<polyline points="119.8,443.7 134.7,441.5 149.6,438.8 164.5,436.2 179.4,434.0 194.3,431.7 209.2,427.7 224.1,424.8 239.0,422.1 253.9,420.9 268.8,420.4 283.7,418.0 298.6,413.7 313.5,409.6 328.4,404.2 343.3,402.1 358.2,398.8 373.1,394.8 388.0,387.3 402.9,382.2 417.8,377.5 432.7,379.7 447.6,374.6 462.5,370.6 477.4,374.4 492.3,368.2 507.2,367.5 522.1,367.0 537.0,357.0 551.9,361.0 566.8,354.0 581.7,339.3 596.6,329.3 611.5,312.2 626.4,311.4" stroke="#ff7f0e"/>
<polyline points="119.8,443.7 134.7,441.2 149.6,438.6 164.5,436.3 179.4,433.5 194.3,430.9 209.2,428.8 224.1,426.6 239.0,422.2 253.9,417.2 268.8,414.5 283.7,411.3 298.6,411.5 313.5,405.1 328.4,401.7 343.3,396.1 358.2,387.6 373.1,391.1 388.0,385.9 402.9,386.6 417.8,380.7 432.7,379.7 447.6,377.7 462.5,376.7 477.4,380.6 492.3,380.6 507.2,380.6 522.1,368.8 537.0,360.8 551.9,346.7 566.8,335.3 581.7,327.7 596.6,316.6 611.5,299.7 626.4,296.1" stroke="#2ca02c"/>
<polyline points="119.8,443.7 134.7,441.3 149.6,438.5 164.5,435.7 179.4,431.3 194.3,428.4 209.2,425.7 224.1,421.4 239.0,416.8 253.9,413.6 268.8,407.6 283.7,404.3 298.6,396.2 313.5,388.7 328.4,387.2 343.3,378.9 358.2,378.7 373.1,373.9 388.0,371.9 402.9,365.1 417.8,360.1 432.7,350.1 447.6,341.1 462.5,324.0 477.4,308.5 492.3,305.2 507.2,283.2 522.1,257.4 537.0,235.0 551.9,210.0 566.8,176.5 581.7,152.6 596.6,105.7 611.5,75.6 626.4,48.4" stroke="#d62728"/>
<polyline points="119.8,443.7 134.7,441.3 149.6,439.0 164.5,436.5 179.4,433.1 194.3,430.2 209.2,426.7 224.1,424.7 239.0,419.2 253.9,417.4 268.8,414.2 283.7,410.3 298.6,406.1 313.5,395.2 328.4,394.6 343.3,391.6 358.2,385.1 373.1,381.8 388.0,379.5 402.9,375.8 417.8,363.1 432.7,366.3 447.6,360.6 462.5,351.9 477.4,337.6 492.3,329.1 507.2,305.6 522.1,307.8 537.0,317.1 551.9,305.2 566.8,299.4 581.7,292.4 596.6,277.9 611.5,257.2 626.4,248.1" stroke="#9467bd"/>
<polyline points="119.8,443.7 134.7,441.4 149.6,438.5 164.5,435.6 179.4,432.0 194.3,428.2 209.2,425.1 224.1,421.1 239.0,415.8 253.9,409.2 268.8,406.6 283.7,400.0 298.6,395.3 313.5,389.1 328.4,389.1 343.3,386.9 358.2,383.0 373.1,371.3 388.0,362.0 402.9,364.8 417.8,358.9 432.7,350.8 447.6,337.9 462.5,321.6 477.4,309.6 492.3,298.4 507.2,268.0 522.1,255.5 537.0,256.4 551.9,238.4 566.8,218.6 581.7,210.4 596.6,177.0 611.5,152.5 626.4,104.3" stroke="#8c564b"/>
<polyline points="119.8,443.7 134.7,441.3 149.6,438.2 164.5,435.0 179.4,433.4 194.3,429.8 209.2,427.4 224.1,424.8 239.0,422.7 253.9,419.3 268.8,415.9 283.7,414.7 298.6,411.4 313.5,403.9 328.4,395.2 343.3,392.2 358.2,389.1 373.1,386.9 388.0,374.9 402.9,368.6 417.8,359.9 432.7,352.0 447.6,335.7 462.5,332.5 477.4,328.0 492.3,311.5 507.2,283.7 522.1,280.4 537.0,277.1 551.9,265.7 566.8,243.4 581.7,216.2 596.6,171.0 611.5,136.5 626.4,114.8" stroke="#e377c2"/>
<polyline points="119.8,443.7 134.7,441.3 149.6,439.1 164.5,436.2 179.4,433.6 194.3,430.8 209.2,427.3 224.1,424.7 239.0,420.4 253.9,415.5 268.8,411.9 283.7,407.7 298.6,404.9 313.5,399.3 328.4,392.0 343.3,389.2 358.2,383.1 373.1,377.6 388.0,381.8 402.9,381.8 417.8,379.4 432.7,380.7 447.6,375.4 462.5,372.3 477.4,367.1 492.3,362.9 507.2,363.9 522.1,356.9 537.0,354.3 551.9,348.8 566.8,348.0 581.7,348.0 596.6,340.0 611.5,331.0 626.4,327.2" stroke="#7f7f7f"/>
<polyline points="119.8,443.7 134.7,441.1 149.6,438.5 164.5,435.7 179.4,432.7 194.3,429.7 209.2,427.0 224.1,421.6 239.0,416.8 253.9,413.7 268.8,413.1 283.7,405.2 298.6,401.6 313.5,396.1 328.4,391.5 343.3,386.5 358.2,380.8 373.1,379.6 388.0,371.7 402.9,361.3 417.8,354.5 432.7,347.8 447.6,344.9 462.5,335.4 477.4,323.3 492.3,303.2 507.2,270.5 522.1,246.7 537.0,229.8 551.9,171.7 566.8,153.6 581.7,144.7 596.6,166.8 611.5,131.2 626.4,122.3" stroke="#bcbd22"/>
<polyline points="119.8,443.7 134.7,441.4 149.6,438.9 164.5,436.1 179.4,433.1 194.3,430.4 209.2,426.4 224.1,424.5 239.0,423.6 253.9,420.0 268.8,413.5 283.7,410.9 298.6,410.1 313.5,403.4 328.4,398.3 343.3,394.7 358.2,394.8 373.1,386.0 388.0,377.1 402.9,368.7 417.8,363.8 432.7,356.6 447.6,345.0 462.5,324.1 477.4,311.5 492.3,300.1 507.2,282.1 522.1,263.3 537.0,230.0 551.9,208.0 566.8,208.0 581.7,193.3 596.6,185.0 611.5,171.4 626.4,175.2" stroke="#17becf"/>
</g>
<line x1="267.9" y1="437" x2="267.9" y2="380" stroke="#000" stroke-width="1.5" stroke-dasharray="5.55 2.4"/>
<rect x="94.4" y="28.5" width="558.1" height="434.8" fill="none" stroke="#262626" stroke-width="1.25"/>
<g font-family="'Liberation Sans', sans-serif" font-weight="bold" fill="#262626">
<text x="372.8" y="22.6" font-size="22.04" text-anchor="middle">200 simulaciones de 5% anual con desvío estandar de 6%</text>
<g font-size="19.5" text-anchor="middle" stroke="#262626" stroke-width="0.22">
<text transform="translate(119.6,481.8) scale(0.83,1)">0</text>
<text transform="translate(194.2,481.8) scale(0.83,1)">5</text>
<text transform="translate(268.8,481.8) scale(0.83,1)">10</text>
<text transform="translate(343.3,481.8) scale(0.83,1)">15</text>
<text transform="translate(417.9,481.8) scale(0.83,1)">20</text>
<text transform="translate(492.5,481.8) scale(0.83,1)">25</text>
<text transform="translate(567.0,481.8) scale(0.83,1)">30</text>
<text transform="translate(641.6,481.8) scale(0.83,1)">35</text>
</g>
<g font-size="20.3" text-anchor="end" stroke="#262626" stroke-width="0.22">
<text transform="translate(90.8,454.1) scale(0.86,1)">0</text>
<text transform="translate(89.7,358.0) scale(0.86,1)">50000</text>
<text transform="translate(89.7,263.0) scale(0.86,1)">100000</text>
<text transform="translate(89.7,168.0) scale(0.86,1)">150000</text>
<text transform="translate(89.7,73.0) scale(0.86,1)">200000</text>
</g>
<text transform="translate(372.6,504.8) scale(0.925,1)" font-size="21.2" text-anchor="middle">Años</text>
<text transform="translate(22.1,248.8) rotate(-90) scale(0.925,1)" font-size="21" text-anchor="middle">U$S</text>
</g>
</svg>
</body></html>
